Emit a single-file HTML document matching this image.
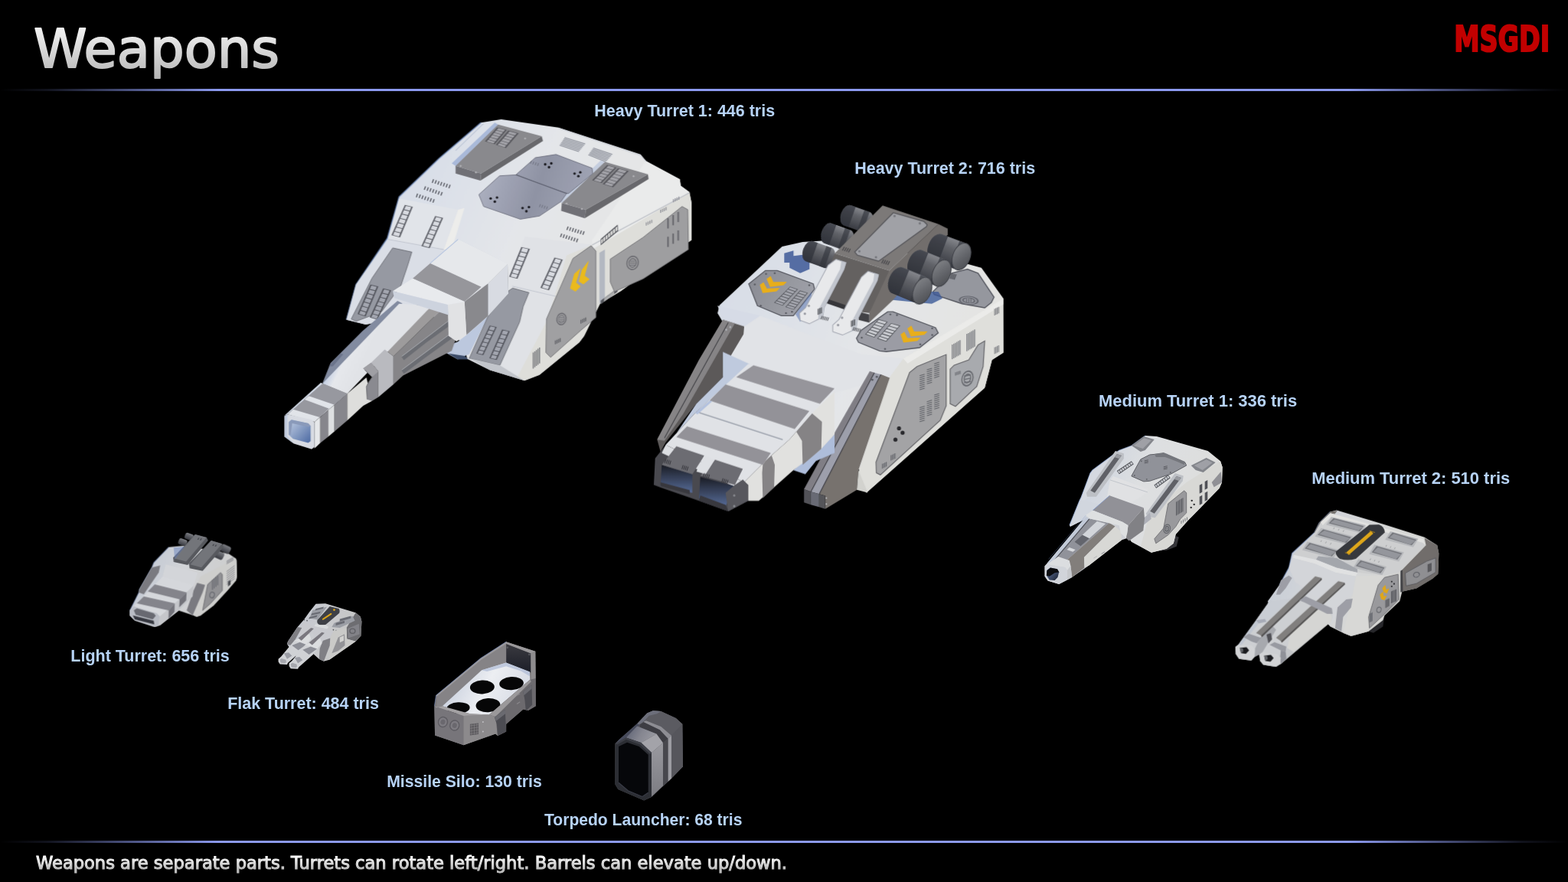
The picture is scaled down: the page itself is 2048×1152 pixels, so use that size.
<!DOCTYPE html>
<html lang="en">
<head>
<meta charset="utf-8">
<title>Weapons</title>
<style>
html,body{margin:0;padding:0;background:#000;width:2048px;height:1152px;overflow:hidden}
svg{display:block;position:absolute;left:0;top:0}
text{font-family:"Liberation Sans",sans-serif}
.lbl{font-weight:bold;font-size:22.5px;fill:#b7d3f6}
.dv{font-family:"DejaVu Sans","Liberation Sans",sans-serif}
</style>
</head>
<body>
<svg width="2048" height="1152" viewBox="0 0 2048 1152">
<defs>
<linearGradient id="lineg" x1="0" x2="1" y1="0" y2="0">
<stop offset="0" stop-color="#8b99ee" stop-opacity="0"/>
<stop offset="0.03" stop-color="#8b99ee" stop-opacity="0.12"/>
<stop offset="0.14" stop-color="#8b99ee" stop-opacity="1"/>
<stop offset="0.86" stop-color="#8b99ee" stop-opacity="1"/>
<stop offset="0.97" stop-color="#8b99ee" stop-opacity="0.12"/>
<stop offset="1" stop-color="#8b99ee" stop-opacity="0"/>
</linearGradient>
<linearGradient id="titleg" x1="0" x2="0" y1="0" y2="1">
<stop offset="0" stop-color="#ffffff"/>
<stop offset="1" stop-color="#b4b4b4"/>
</linearGradient>
<linearGradient id="footg" x1="0" x2="0" y1="0" y2="1">
<stop offset="0.15" stop-color="#ffffff"/>
<stop offset="0.85" stop-color="#bcbcbc"/>
</linearGradient>
</defs>
<rect x="0" y="0" width="2048" height="1152" fill="#000000"/>
<rect x="0" y="116" width="2048" height="3" fill="url(#lineg)"/>
<rect x="0" y="1098" width="2048" height="3" fill="url(#lineg)"/>

<!-- 10_heavy1 -->
<g id="heavy1" opacity="0.97" transform="translate(340,130) scale(0.416667)">
<defs>
<linearGradient id="h1roof" gradientUnits="userSpaceOnUse" x1="400" y1="200" x2="1300" y2="600">
<stop offset="0" stop-color="#dde4f0"/><stop offset="0.45" stop-color="#eceef2"/><stop offset="1" stop-color="#efefec"/>
</linearGradient>
<linearGradient id="h1hatch" gradientUnits="userSpaceOnUse" x1="700" y1="200" x2="1050" y2="320">
<stop offset="0" stop-color="#b4b8c8"/><stop offset="0.5" stop-color="#9498aa"/><stop offset="1" stop-color="#a9adbd"/>
</linearGradient>
<linearGradient id="h1pad" gradientUnits="userSpaceOnUse" x1="0" y1="0" x2="300" y2="300" >
<stop offset="0" stop-color="#97979b"/><stop offset="1" stop-color="#858589"/>
</linearGradient>
</defs>
<polygon points="692,72 755,62 935,88 1192,172 1208,192 1315,250 1318,270 1345,290 1352,325 1352,440 1130,600 1065,640 1015,741 1000,761 875,863 828,881 720,848 648,812 640,770 500,640 360,700 330,705 270,690 300,580 398,435 435,305 560,185" fill="url(#h1roof)"/>
<polyline points="692,72 560,185 435,305 398,435 300,580 270,690" fill="none" stroke="#7f9fd8" stroke-width="5" opacity="0.55"/>
<polygon points="1040,455 1200,360 1345,290 1352,325 1352,440 1130,600 1065,640 1015,741 1000,761 875,863 828,881 805,870 900,690 960,488" fill="#e6e6e2"/>
<polygon points="1208,192 1315,250 1318,270 1345,290 1040,470 1040,440" fill="#f2f3f3"/>
<polyline points="1040,456 1345,292" fill="none" stroke="#c9ccd2" stroke-width="3"/>
<polyline points="700,75 612,160" fill="none" stroke="#c5cee0" stroke-width="3"/>
<polyline points="935,90 1192,175 1210,195" fill="none" stroke="#d6dae2" stroke-width="3"/>
<polygon points="882,115 886,130 690,254 692,232" fill="#6c6c70"/>
<polygon points="612,208 692,232 690,254 612,232" fill="#74747a"/>
<polygon points="745,78 882,115 692,232 612,208" fill="#8e8e92"/>
<polygon points="1215,234 1217,249 1017,372 1020,345" fill="#6c6c70"/>
<polygon points="945,324 1020,345 1017,372 943,349" fill="#74747a"/>
<polygon points="1080,195 1215,234 1020,345 945,324" fill="#8e8e92"/>
<polygon points="745,78 612,208 600,200 735,72" fill="#6f8fcf" opacity="0.45"/>
<polygon points="1080,195 945,324 935,318 1068,190" fill="#8fa6d6" opacity="0.35"/>
<polygon points="742,87 773,95 735,140 704,131" fill="#5e5e64"/>
<polygon points="746.1,89.3 767.2,94.8 761.9,101 740.8,95.4" fill="#a8a8ae"/>
<polygon points="739.7,96.7 760.8,102.2 755.6,108.5 734.5,102.8" fill="#a8a8ae"/>
<polygon points="733.4,104 754.5,109.7 749.2,115.9 728.1,110.2" fill="#a8a8ae"/>
<polygon points="727.1,111.4 748.2,117.2 742.9,123.4 721.8,117.5" fill="#a8a8ae"/>
<polygon points="720.7,118.8 741.8,124.7 736.6,130.9 715.5,124.9" fill="#a8a8ae"/>
<polygon points="714.4,126.1 735.5,132.1 730.9,137.5 709.8,131.4" fill="#a8a8ae"/>
<polygon points="777,97 810,106 770,152 738,142" fill="#5e5e64"/>
<polygon points="781.4,99.5 803.8,105.6 798.3,112 775.9,105.8" fill="#a8a8ae"/>
<polygon points="774.8,107 797.2,113.3 791.6,119.6 769.4,113.3" fill="#a8a8ae"/>
<polygon points="768.3,114.5 790.5,120.9 785,127.3 762.9,120.8" fill="#a8a8ae"/>
<polygon points="761.8,122.1 783.9,128.5 778.3,134.9 756.4,128.3" fill="#a8a8ae"/>
<polygon points="755.3,129.6 777.2,136.2 771.7,142.5 749.8,135.9" fill="#a8a8ae"/>
<polygon points="748.7,137.1 770.6,143.8 765.8,149.3 744,142.5" fill="#a8a8ae"/>
<polygon points="1087,205 1117,213 1070,262 1040,253" fill="#5e5e64"/>
<polygon points="1090.7,207.4 1111.1,212.9 1104.6,219.6 1084.2,214.1" fill="#a8a8ae"/>
<polygon points="1082.9,215.4 1103.3,221 1096.8,227.8 1076.4,222.1" fill="#a8a8ae"/>
<polygon points="1075,223.5 1095.4,229.1 1088.9,235.9 1068.5,230.1" fill="#a8a8ae"/>
<polygon points="1067.2,231.5 1087.6,237.3 1081.1,244.1 1060.7,238.2" fill="#a8a8ae"/>
<polygon points="1059.4,239.5 1079.8,245.4 1073.3,252.2 1052.9,246.2" fill="#a8a8ae"/>
<polygon points="1051.5,247.5 1071.9,253.6 1066.3,259.4 1045.9,253.3" fill="#a8a8ae"/>
<polygon points="1121,215 1155,224 1106,275 1073,265" fill="#5e5e64"/>
<polygon points="1125.3,217.6 1148.4,223.7 1141.6,230.8 1118.6,224.6" fill="#a8a8ae"/>
<polygon points="1117.3,226 1140.3,232.2 1133.5,239.3 1110.6,232.9" fill="#a8a8ae"/>
<polygon points="1109.3,234.3 1132.1,240.7 1125.4,247.7 1102.6,241.3" fill="#a8a8ae"/>
<polygon points="1101.2,242.7 1124,249.2 1117.2,256.2 1094.6,249.6" fill="#a8a8ae"/>
<polygon points="1093.2,251.1 1115.9,257.6 1109.1,264.7 1086.5,258" fill="#a8a8ae"/>
<polygon points="1085.2,259.4 1107.7,266.1 1101.9,272.2 1079.4,265.4" fill="#a8a8ae"/>
<circle cx="628" cy="208" r="3" fill="#b8b8bc"/>
<circle cx="676" cy="228" r="3" fill="#b8b8bc"/>
<circle cx="830" cy="122" r="3" fill="#b8b8bc"/>
<circle cx="960" cy="326" r="3" fill="#b8b8bc"/>
<circle cx="1008" cy="343" r="3" fill="#b8b8bc"/>
<circle cx="1170" cy="240" r="3" fill="#b8b8bc"/>
<polygon points="955,117 1020,137 997,165 937,145" fill="#dcdfe6"/>
<line x1="953.7" y1="119" x2="1018.4" y2="139" stroke="#7c7f88" stroke-width="2"/>
<line x1="951.1" y1="123" x2="1015.1" y2="143" stroke="#7c7f88" stroke-width="2"/>
<line x1="948.6" y1="127" x2="1011.8" y2="147" stroke="#7c7f88" stroke-width="2"/>
<line x1="946" y1="131" x2="1008.5" y2="151" stroke="#7c7f88" stroke-width="2"/>
<line x1="943.4" y1="135" x2="1005.2" y2="155" stroke="#7c7f88" stroke-width="2"/>
<line x1="940.9" y1="139" x2="1001.9" y2="159" stroke="#7c7f88" stroke-width="2"/>
<line x1="938.3" y1="143" x2="998.6" y2="163" stroke="#7c7f88" stroke-width="2"/>
<polygon points="1045,150 1105,170 1082,197 1027,175" fill="#dcdfe6"/>
<line x1="1043.7" y1="151.8" x2="1103.4" y2="171.9" stroke="#7c7f88" stroke-width="2"/>
<line x1="1041.1" y1="155.4" x2="1100.1" y2="175.8" stroke="#7c7f88" stroke-width="2"/>
<line x1="1038.6" y1="158.9" x2="1096.8" y2="179.6" stroke="#7c7f88" stroke-width="2"/>
<line x1="1036" y1="162.5" x2="1093.5" y2="183.5" stroke="#7c7f88" stroke-width="2"/>
<line x1="1033.4" y1="166.1" x2="1090.2" y2="187.4" stroke="#7c7f88" stroke-width="2"/>
<line x1="1030.9" y1="169.6" x2="1086.9" y2="191.2" stroke="#7c7f88" stroke-width="2"/>
<line x1="1028.3" y1="173.2" x2="1083.6" y2="195.1" stroke="#7c7f88" stroke-width="2"/>
<polygon points="802,235 862,182 927,172 1040,215 1042,232 965,295 900,275" fill="url(#h1hatch)" stroke="#6d7080" stroke-width="2"/>
<polygon points="685,298 750,239 800,236 960,295 942,320 875,365 815,375 700,335" fill="url(#h1hatch)" stroke="#6d7080" stroke-width="2"/>
<polygon points="800,236 960,295 965,295 802,235" fill="#5d6070"/>
<circle cx="893" cy="203" r="4" fill="#1c1c22"/>
<circle cx="905" cy="212" r="4" fill="#1c1c22"/>
<circle cx="912" cy="200" r="4" fill="#1c1c22"/>
<circle cx="985" cy="232" r="4" fill="#1c1c22"/>
<circle cx="997" cy="240" r="4" fill="#1c1c22"/>
<circle cx="1003" cy="228" r="4" fill="#1c1c22"/>
<circle cx="722" cy="310" r="4" fill="#1c1c22"/>
<circle cx="735" cy="320" r="4" fill="#1c1c22"/>
<circle cx="742" cy="307" r="4" fill="#1c1c22"/>
<circle cx="822" cy="340" r="4" fill="#1c1c22"/>
<circle cx="834" cy="350" r="4" fill="#1c1c22"/>
<circle cx="842" cy="337" r="4" fill="#1c1c22"/>
<line x1="543" y1="250" x2="539" y2="261" stroke="#4a4c55" stroke-width="3"/>
<line x1="551.7" y1="252.8" x2="547.7" y2="263.8" stroke="#4a4c55" stroke-width="3"/>
<line x1="560.3" y1="255.7" x2="556.3" y2="266.7" stroke="#4a4c55" stroke-width="3"/>
<line x1="569" y1="258.5" x2="565" y2="269.5" stroke="#4a4c55" stroke-width="3"/>
<line x1="577.7" y1="261.3" x2="573.7" y2="272.3" stroke="#4a4c55" stroke-width="3"/>
<line x1="586.3" y1="264.2" x2="582.3" y2="275.2" stroke="#4a4c55" stroke-width="3"/>
<line x1="595" y1="267" x2="591" y2="278" stroke="#4a4c55" stroke-width="3"/>
<line x1="518" y1="272" x2="514" y2="283" stroke="#4a4c55" stroke-width="3"/>
<line x1="526.7" y1="275" x2="522.7" y2="286" stroke="#4a4c55" stroke-width="3"/>
<line x1="535.3" y1="278" x2="531.3" y2="289" stroke="#4a4c55" stroke-width="3"/>
<line x1="544" y1="281" x2="540" y2="292" stroke="#4a4c55" stroke-width="3"/>
<line x1="552.7" y1="284" x2="548.7" y2="295" stroke="#4a4c55" stroke-width="3"/>
<line x1="561.3" y1="287" x2="557.3" y2="298" stroke="#4a4c55" stroke-width="3"/>
<line x1="570" y1="290" x2="566" y2="301" stroke="#4a4c55" stroke-width="3"/>
<line x1="493" y1="295" x2="489" y2="306" stroke="#4a4c55" stroke-width="3"/>
<line x1="501.7" y1="297.8" x2="497.7" y2="308.8" stroke="#4a4c55" stroke-width="3"/>
<line x1="510.3" y1="300.7" x2="506.3" y2="311.7" stroke="#4a4c55" stroke-width="3"/>
<line x1="519" y1="303.5" x2="515" y2="314.5" stroke="#4a4c55" stroke-width="3"/>
<line x1="527.7" y1="306.3" x2="523.7" y2="317.3" stroke="#4a4c55" stroke-width="3"/>
<line x1="536.3" y1="309.2" x2="532.3" y2="320.2" stroke="#4a4c55" stroke-width="3"/>
<line x1="545" y1="312" x2="541" y2="323" stroke="#4a4c55" stroke-width="3"/>
<line x1="965" y1="398" x2="961" y2="409" stroke="#4a4c55" stroke-width="3"/>
<line x1="973.3" y1="400.5" x2="969.3" y2="411.5" stroke="#4a4c55" stroke-width="3"/>
<line x1="981.7" y1="403" x2="977.7" y2="414" stroke="#4a4c55" stroke-width="3"/>
<line x1="990" y1="405.5" x2="986" y2="416.5" stroke="#4a4c55" stroke-width="3"/>
<line x1="998.3" y1="408" x2="994.3" y2="419" stroke="#4a4c55" stroke-width="3"/>
<line x1="1006.7" y1="410.5" x2="1002.7" y2="421.5" stroke="#4a4c55" stroke-width="3"/>
<line x1="1015" y1="413" x2="1011" y2="424" stroke="#4a4c55" stroke-width="3"/>
<line x1="945" y1="420" x2="941" y2="431" stroke="#4a4c55" stroke-width="3"/>
<line x1="953.3" y1="422.7" x2="949.3" y2="433.7" stroke="#4a4c55" stroke-width="3"/>
<line x1="961.7" y1="425.3" x2="957.7" y2="436.3" stroke="#4a4c55" stroke-width="3"/>
<line x1="970" y1="428" x2="966" y2="439" stroke="#4a4c55" stroke-width="3"/>
<line x1="978.3" y1="430.7" x2="974.3" y2="441.7" stroke="#4a4c55" stroke-width="3"/>
<line x1="986.7" y1="433.3" x2="982.7" y2="444.3" stroke="#4a4c55" stroke-width="3"/>
<line x1="995" y1="436" x2="991" y2="447" stroke="#4a4c55" stroke-width="3"/>
<line x1="922" y1="443" x2="918" y2="454" stroke="#4a4c55" stroke-width="3"/>
<line x1="930.3" y1="445.7" x2="926.3" y2="456.7" stroke="#4a4c55" stroke-width="3"/>
<line x1="938.7" y1="448.3" x2="934.7" y2="459.3" stroke="#4a4c55" stroke-width="3"/>
<line x1="947" y1="451" x2="943" y2="462" stroke="#4a4c55" stroke-width="3"/>
<line x1="955.3" y1="453.7" x2="951.3" y2="464.7" stroke="#4a4c55" stroke-width="3"/>
<line x1="963.7" y1="456.3" x2="959.7" y2="467.3" stroke="#4a4c55" stroke-width="3"/>
<line x1="972" y1="459" x2="968" y2="470" stroke="#4a4c55" stroke-width="3"/>
<line x1="850" y1="192" x2="847" y2="201" stroke="#6a6c78" stroke-width="2"/>
<line x1="857.3" y1="194.3" x2="854.3" y2="203.3" stroke="#6a6c78" stroke-width="2"/>
<line x1="864.7" y1="196.7" x2="861.7" y2="205.7" stroke="#6a6c78" stroke-width="2"/>
<line x1="872" y1="199" x2="869" y2="208" stroke="#6a6c78" stroke-width="2"/>
<line x1="878" y1="328" x2="875" y2="337" stroke="#6a6c78" stroke-width="2"/>
<line x1="885.3" y1="330.3" x2="882.3" y2="339.3" stroke="#6a6c78" stroke-width="2"/>
<line x1="892.7" y1="332.7" x2="889.7" y2="341.7" stroke="#6a6c78" stroke-width="2"/>
<line x1="900" y1="335" x2="897" y2="344" stroke="#6a6c78" stroke-width="2"/>
<g transform="translate(384,576) scale(0.3667)">
<polygon points="480,560 640,500 715,440 900,280 950,95 1010,60 760,600 700,620 640,650" fill="#c3cfe6"/>
<polygon points="560,600 700,620 735,650 640,650" fill="#40506e"/>
</g>
<polygon points="435,310 620,345 575,470 400,438" fill="#e9ecf1"/>
<polygon points="400,438 575,470 500,640 360,700 330,705 270,690 300,580" fill="#e2e6ee"/>
<polygon points="620,345 640,340 600,470 575,470" fill="#f5f5f3"/>
<polygon points="830,430 1040,455 960,488 900,690 805,870 720,848 648,812 714,679 760,600" fill="#e8eaee"/>
<polyline points="400,438 575,470" fill="none" stroke="#c4c9d4" stroke-width="2"/>
<polyline points="790,585 940,620" fill="none" stroke="#c4c9d4" stroke-width="2"/>
<polygon points="453,330 478,336 438,432 411,425" fill="#62646c"/>
<polygon points="456.2,332.9 473.2,337 468.4,348.3 451.2,344.2" fill="#dfe2e8"/>
<polygon points="450.2,346.5 467.4,350.6 462.6,362 445.3,357.8" fill="#dfe2e8"/>
<polygon points="444.3,360.1 461.7,364.3 456.9,375.7 439.3,371.4" fill="#dfe2e8"/>
<polygon points="438.3,373.6 455.9,378 451.1,389.4 433.3,385" fill="#dfe2e8"/>
<polygon points="432.3,387.2 450.2,391.7 445.4,403.1 427.4,398.6" fill="#dfe2e8"/>
<polygon points="426.4,400.8 444.4,405.4 439.6,416.8 421.4,412.1" fill="#dfe2e8"/>
<polygon points="420.4,414.4 438.6,419.1 434.5,429 416.2,424.2" fill="#dfe2e8"/>
<polygon points="548,365 573,371 531,466 505,459" fill="#62646c"/>
<polygon points="551.1,367.8 568.2,371.9 563.1,383.2 546.1,379" fill="#dfe2e8"/>
<polygon points="545,381.3 562.1,385.5 557.1,396.8 539.9,392.5" fill="#dfe2e8"/>
<polygon points="538.9,394.7 556.1,399 551.1,410.3 533.8,405.9" fill="#dfe2e8"/>
<polygon points="532.8,408.2 550.1,412.6 545.1,423.9 527.7,419.4" fill="#dfe2e8"/>
<polygon points="526.7,421.6 544.1,426.1 539.1,437.4 521.6,432.8" fill="#dfe2e8"/>
<polygon points="520.5,435.1 538,439.7 533,451 515.5,446.3" fill="#dfe2e8"/>
<polygon points="514.4,448.6 532,453.2 527.7,463 510,458.2" fill="#dfe2e8"/>
<polygon points="818,462 845,468 806,562 780,555" fill="#62646c"/>
<polygon points="821.6,464.8 839.9,468.9 835.3,480.1 817,475.9" fill="#dfe2e8"/>
<polygon points="816.1,478.1 834.4,482.3 829.7,493.5 811.6,489.2" fill="#dfe2e8"/>
<polygon points="810.7,491.4 828.8,495.7 824.2,506.9 806.1,502.5" fill="#dfe2e8"/>
<polygon points="805.2,504.7 823.3,509.1 818.6,520.3 800.7,515.8" fill="#dfe2e8"/>
<polygon points="799.8,518.1 817.7,522.5 813.1,533.7 795.2,529.1" fill="#dfe2e8"/>
<polygon points="794.3,531.4 812.2,535.9 807.5,547.1 789.8,542.4" fill="#dfe2e8"/>
<polygon points="788.8,544.7 806.6,549.4 802.6,559 784.9,554.3" fill="#dfe2e8"/>
<polygon points="922,495 948,502 905,598 878,590" fill="#62646c"/>
<polygon points="925.3,498 943,502.8 937.8,514.2 920.1,509.3" fill="#dfe2e8"/>
<polygon points="919,511.6 936.8,516.5 931.7,527.9 913.8,522.9" fill="#dfe2e8"/>
<polygon points="912.8,525.2 930.6,530.2 925.5,541.6 907.5,536.5" fill="#dfe2e8"/>
<polygon points="906.5,538.8 924.5,543.9 919.3,555.3 901.3,550.1" fill="#dfe2e8"/>
<polygon points="900.2,552.4 918.3,557.6 913.2,569 895,563.7" fill="#dfe2e8"/>
<polygon points="894,566 912.1,571.3 907,582.6 888.8,577.3" fill="#dfe2e8"/>
<polygon points="887.7,579.6 906,584.9 901.5,594.8 883.2,589.4" fill="#dfe2e8"/>
<polygon points="415,465 475,478 462,520 440,585 380,665 300,695 285,688 350,560" fill="#9b9ea8" stroke="#6a6c74" stroke-width="2"/>
<polygon points="345,580 370,586 330,680 305,672" fill="#55575f"/>
<polygon points="348.2,582.8 365.2,586.9 360.4,598 343.4,593.8" fill="#a9acb6"/>
<polygon points="342.5,596 359.5,600.3 354.7,611.4 337.7,607" fill="#a9acb6"/>
<polygon points="336.8,609.2 353.8,613.7 349,624.8 332,620.2" fill="#a9acb6"/>
<polygon points="331.1,622.4 348.1,627.1 343.3,638.2 326.3,633.3" fill="#a9acb6"/>
<polygon points="325.3,635.6 342.3,640.4 337.6,651.6 320.6,646.5" fill="#a9acb6"/>
<polygon points="319.6,648.7 336.6,653.8 331.9,665 314.9,659.7" fill="#a9acb6"/>
<polygon points="313.9,661.9 330.9,667.2 326.8,676.8 309.8,671.4" fill="#a9acb6"/>
<polygon points="385,592 410,598 368,690 343,683" fill="#55575f"/>
<polygon points="388.2,594.8 405.2,598.9 400.2,609.8 383.2,605.6" fill="#a9acb6"/>
<polygon points="382.2,607.8 399.2,612 394.2,622.9 377.2,618.6" fill="#a9acb6"/>
<polygon points="376.2,620.8 393.2,625.1 388.2,636 371.2,631.7" fill="#a9acb6"/>
<polygon points="370.2,633.9 387.2,638.2 382.2,649.2 365.2,644.7" fill="#a9acb6"/>
<polygon points="364.2,646.9 381.2,651.4 376.2,662.3 359.2,657.7" fill="#a9acb6"/>
<polygon points="358.2,659.9 375.2,664.5 370.2,675.4 353.2,670.7" fill="#a9acb6"/>
<polygon points="352.2,672.9 369.2,677.6 364.8,687 347.8,682.3" fill="#a9acb6"/>
<polygon points="791,591 842,605 824,649 813,697 751,833 655,811 714,679 754,616" fill="#9b9ea8" stroke="#6a6c74" stroke-width="2"/>
<polygon points="719,708 741,713 699,801 677,796" fill="#55575f"/>
<polygon points="721.7,710.6 736.6,714 731.6,724.4 716.7,721" fill="#a9acb6"/>
<polygon points="715.7,723.1 730.6,726.5 725.6,737 710.7,733.6" fill="#a9acb6"/>
<polygon points="709.7,735.7 724.6,739.1 719.6,749.6 704.7,746.2" fill="#a9acb6"/>
<polygon points="703.7,748.3 718.6,751.7 713.6,762.1 698.7,758.7" fill="#a9acb6"/>
<polygon points="697.7,760.8 712.6,764.2 707.6,774.7 692.7,771.3" fill="#a9acb6"/>
<polygon points="691.7,773.4 706.6,776.8 701.6,787.3 686.7,783.9" fill="#a9acb6"/>
<polygon points="685.7,786 700.6,789.4 696.3,798.4 681.4,795" fill="#a9acb6"/>
<polygon points="758,721 782,726 741,816 718,811" fill="#55575f"/>
<polygon points="761,723.6 777.3,727 772.5,737.7 756.3,734.3" fill="#a9acb6"/>
<polygon points="755.3,736.5 771.5,739.9 766.7,750.6 750.5,747.2" fill="#a9acb6"/>
<polygon points="749.6,749.3 765.7,752.7 760.8,763.4 744.8,760" fill="#a9acb6"/>
<polygon points="743.8,762.2 759.8,765.6 755,776.3 739.1,772.9" fill="#a9acb6"/>
<polygon points="738.1,775 754,778.4 749.2,789.1 733.3,785.7" fill="#a9acb6"/>
<polygon points="732.4,787.9 748.2,791.3 743.3,802 727.6,798.6" fill="#a9acb6"/>
<polygon points="726.6,800.7 742.3,804.1 738.1,813.4 722.5,810" fill="#a9acb6"/>
<polygon points="655,811 751,833 828,881 720,848" fill="#c9ccd2"/>
<polygon points="980,498 1037,458 1052,475 1052,683 1005,723 910,808 895,793 897,688" fill="#a6a6a8" stroke="#707074" stroke-width="2"/>
<polygon points="1030,504 1017,552 1032,563 1013,579 998,570 1008,533" fill="#f2c01e"/>
<polygon points="1004,528 990,574 1004,586 988,602 971,592 984,546" fill="#f2c01e"/>
<ellipse cx="944" cy="688" rx="16" ry="20" fill="#707076" transform="rotate(12 944 688)"/>
<ellipse cx="944" cy="688" rx="12.8" ry="16" fill="#a6a6a8" transform="rotate(12 944 688)"/>
<ellipse cx="944" cy="688" rx="10.4" ry="13" fill="#707076" transform="rotate(12 944 688)"/>
<ellipse cx="944" cy="688" rx="8.4" ry="10.5" fill="#a6a6a8" transform="rotate(12 944 688)"/>
<line x1="937" y1="682.8" x2="952" y2="682.8" stroke="#707076" stroke-width="2"/>
<line x1="937" y1="688.5" x2="952" y2="688.5" stroke="#707076" stroke-width="2"/>
<line x1="937" y1="694.2" x2="952" y2="694.2" stroke="#707076" stroke-width="2"/>
<line x1="925" y1="755" x2="925" y2="767" stroke="#55565c" stroke-width="2.5"/>
<line x1="930" y1="752.7" x2="930" y2="764.7" stroke="#55565c" stroke-width="2.5"/>
<line x1="935" y1="750.3" x2="935" y2="762.3" stroke="#55565c" stroke-width="2.5"/>
<line x1="940" y1="748" x2="940" y2="760" stroke="#55565c" stroke-width="2.5"/>
<line x1="1005" y1="690" x2="1005" y2="702" stroke="#55565c" stroke-width="2.5"/>
<line x1="1010" y1="687.7" x2="1010" y2="699.7" stroke="#55565c" stroke-width="2.5"/>
<line x1="1015" y1="685.3" x2="1015" y2="697.3" stroke="#55565c" stroke-width="2.5"/>
<line x1="1020" y1="683" x2="1020" y2="695" stroke="#55565c" stroke-width="2.5"/>
<polygon points="1063,480 1080,470 1080,625 1063,640" fill="#b9bec8"/>
<polygon points="1120,392 1122,412 1067,457 1067,437" fill="#5a5c62"/>
<polygon points="1118.9,397.3 1120,409.3 1114.1,414.2 1113.1,402.2" fill="#e4e4e2"/>
<polygon points="1111.2,403.7 1112.2,415.7 1106.3,420.6 1105.4,408.6" fill="#e4e4e2"/>
<polygon points="1103.6,410.1 1104.4,422.1 1098.5,427 1097.8,415" fill="#e4e4e2"/>
<polygon points="1096,416.6 1096.6,428.6 1090.7,433.5 1090.2,421.5" fill="#e4e4e2"/>
<polygon points="1088.4,423 1088.8,435 1082.9,439.9 1082.6,427.9" fill="#e4e4e2"/>
<polygon points="1080.7,429.4 1081,441.4 1075.1,446.3 1074.9,434.3" fill="#e4e4e2"/>
<polygon points="1073.1,435.9 1073.2,447.9 1068.6,451.7 1068.5,439.7" fill="#e4e4e2"/>
<polygon points="1067,630 1120,590 1120,602 1067,642" fill="#5a5c62"/>
<polygon points="1077.6,622.3 1109.4,598.3 1109.4,599.6 1077.6,623.6" fill="#e4e4e2"/>
<polygon points="1077.6,624.1 1109.4,600.1 1109.4,601.4 1077.6,625.4" fill="#e4e4e2"/>
<polygon points="1077.6,625.8 1109.4,601.8 1109.4,603.1 1077.6,627.1" fill="#e4e4e2"/>
<polygon points="1077.6,627.5 1109.4,603.5 1109.4,604.8 1077.6,628.8" fill="#e4e4e2"/>
<polygon points="1077.6,629.2 1109.4,605.2 1109.4,606.5 1077.6,630.5" fill="#e4e4e2"/>
<polygon points="1077.6,630.9 1109.4,606.9 1109.4,608.2 1077.6,632.2" fill="#e4e4e2"/>
<polygon points="1077.6,632.6 1109.4,608.6 1109.4,609.7 1077.6,633.7" fill="#e4e4e2"/>
<polygon points="1097,500 1200,432 1322,335 1340,345 1342,470 1200,562 1110,602 1097,572" fill="#a4a4a6" stroke="#707074" stroke-width="2"/>
<ellipse cx="1167" cy="512" rx="19.6" ry="23" fill="#707076" transform="rotate(15 1167 512)"/>
<ellipse cx="1167" cy="512" rx="16.1" ry="19" fill="#a4a4a6" transform="rotate(15 1167 512)"/>
<ellipse cx="1167" cy="512" rx="12.8" ry="15" fill="#707076" transform="rotate(15 1167 512)"/>
<ellipse cx="1167" cy="512" rx="10.2" ry="12" fill="#a4a4a6" transform="rotate(15 1167 512)"/>
<line x1="1158" y1="506.2" x2="1176" y2="506.2" stroke="#707076" stroke-width="2.5"/>
<line x1="1158" y1="512.5" x2="1176" y2="512.5" stroke="#707076" stroke-width="2.5"/>
<line x1="1158" y1="518.8" x2="1176" y2="518.8" stroke="#707076" stroke-width="2.5"/>
<line x1="1278" y1="372" x2="1278" y2="404" stroke="#6c6c72" stroke-width="5"/>
<line x1="1294" y1="362" x2="1294" y2="394" stroke="#6c6c72" stroke-width="5"/>
<line x1="1310" y1="352" x2="1310" y2="384" stroke="#6c6c72" stroke-width="5"/>
<line x1="1278" y1="430" x2="1278" y2="462" stroke="#6c6c72" stroke-width="5"/>
<line x1="1294" y1="420" x2="1294" y2="452" stroke="#6c6c72" stroke-width="5"/>
<line x1="1310" y1="410" x2="1310" y2="442" stroke="#6c6c72" stroke-width="5"/>
<line x1="855.5" y1="793" x2="855.5" y2="843" stroke="#5a5c62" stroke-width="2.5"/>
<line x1="860.5" y1="789" x2="860.5" y2="839" stroke="#5a5c62" stroke-width="2.5"/>
<line x1="865.5" y1="785" x2="865.5" y2="835" stroke="#5a5c62" stroke-width="2.5"/>
<line x1="870.5" y1="781" x2="870.5" y2="831" stroke="#5a5c62" stroke-width="2.5"/>
<line x1="875.5" y1="777" x2="875.5" y2="827" stroke="#5a5c62" stroke-width="2.5"/>
<line x1="1295" y1="312" x2="1295" y2="322" stroke="#6a6c78" stroke-width="2"/>
<line x1="1300.7" y1="309.3" x2="1300.7" y2="319.3" stroke="#6a6c78" stroke-width="2"/>
<line x1="1306.3" y1="306.7" x2="1306.3" y2="316.7" stroke="#6a6c78" stroke-width="2"/>
<line x1="1312" y1="304" x2="1312" y2="314" stroke="#6a6c78" stroke-width="2"/>
<line x1="1255" y1="345" x2="1255" y2="355" stroke="#6a6c78" stroke-width="2"/>
<line x1="1260.7" y1="342.3" x2="1260.7" y2="352.3" stroke="#6a6c78" stroke-width="2"/>
<line x1="1266.3" y1="339.7" x2="1266.3" y2="349.7" stroke="#6a6c78" stroke-width="2"/>
<line x1="1272" y1="337" x2="1272" y2="347" stroke="#6a6c78" stroke-width="2"/>
<line x1="1210" y1="385" x2="1210" y2="395" stroke="#6a6c78" stroke-width="2"/>
<line x1="1215.7" y1="382.3" x2="1215.7" y2="392.3" stroke="#6a6c78" stroke-width="2"/>
<line x1="1221.3" y1="379.7" x2="1221.3" y2="389.7" stroke="#6a6c78" stroke-width="2"/>
<line x1="1227" y1="377" x2="1227" y2="387" stroke="#6a6c78" stroke-width="2"/>
<g transform="translate(0,576) scale(0.5)">
<defs><linearGradient id="h1muz" x1="0" y1="0" x2="1" y2="1"><stop offset="0" stop-color="#c9d6ec"/><stop offset="1" stop-color="#4f6ea8"/></linearGradient>
<linearGradient id="h1band" gradientUnits="userSpaceOnUse" x1="400" y1="600" x2="560" y2="680"><stop offset="0" stop-color="#c6d3ea"/><stop offset="0.35" stop-color="#eef0f4"/><stop offset="1" stop-color="#e9ebef"/></linearGradient></defs>
<polygon points="390,625 440,500 500,440 640,300 860,110 890,125 400,628" fill="#8790a6"/>
<polygon points="430,520 500,440 520,445 455,520" fill="#6f7890"/>
<polygon points="835,458 1130,170 1235,200 1230,335 1200,423 895,578 835,633" fill="#8b8a8d"/>
<polygon points="780,415 1075,140 1130,170 835,458" fill="#a3a1a2"/>
<polygon points="885,460 1200,220 1215,245 1040,372 900,482" fill="#6f7177"/>
<polyline points="887,458 1200,220" fill="none" stroke="#b5b8be" stroke-width="4"/>
<polygon points="885,545 1200,310 1215,335 1040,462 900,567" fill="#6f7177"/>
<polyline points="887,543 1200,310" fill="none" stroke="#b5b8be" stroke-width="4"/>
<polygon points="390,628 870,128 1075,140 545,692" fill="url(#h1band)"/>
<polygon points="170,822 390,628 545,692 340,868" fill="#e9ecf1"/>
<polygon points="205,790 275,728 430,785 372,840" fill="#9c9da5"/>
<polygon points="300,705 390,628 545,692 465,762" fill="#9c9da5"/>
<polygon points="150,830 170,822 390,628 380,622" fill="#dfe7f4"/>
<polygon points="340,868 375,840 375,1002 340,1035" fill="#eef0f2"/>
<polygon points="375,840 425,795 425,962 375,1002" fill="#8b8b91"/>
<polygon points="425,795 465,762 465,928 425,962" fill="#e6e8ea"/>
<polygon points="465,762 545,692 545,860 465,928" fill="#8b8b91"/>
<polygon points="545,692 665,590 700,738 645,768 545,860" fill="#e6e6e4"/>
<polygon points="695,498 780,415 835,458 835,633 740,713 740,553" fill="#bfc0c6"/>
<polygon points="645,533 695,498 740,553 740,713 700,738 670,728 665,648 680,618 700,588 655,543" fill="#8f8f95"/>
<polygon points="645,533 695,498 740,553 700,588" fill="#a5a5aa"/>
<polyline points="670,728 665,648 680,618 700,588 655,543" fill="none" stroke="#5d5e64" stroke-width="4"/>
<polygon points="152,832 170,822 320,855 340,872 340,1025 322,1040 210,1005 152,962" fill="#dfe3ea"/>
<polygon points="152,832 170,822 170,960 210,1005 152,962" fill="#c9d3e6"/>
<polygon points="178,870 195,855 300,878 315,895 315,990 300,1000 205,975 178,950" fill="url(#h1muz)"/>
<polygon points="178,870 195,855 300,878 315,895 300,900 200,878 190,950 178,950" fill="#8f9fc0"/>
</g>
<g transform="translate(360,288) scale(0.5)">
<polygon points="560,690 708,576 830,455 835,640 708,781 572,899" fill="#8e8e92"/>
<polygon points="455,710 560,690 572,899 510,940 460,905" fill="#e9eaec"/>
<polygon points="708,576 830,455 835,640 708,781" fill="#dfe3ea"/>
<polygon points="345,450 520,300 830,455 708,576 665,598" fill="#eef0f3"/>
<polygon points="235,545 345,450 665,598 560,690" fill="#9b9ba1"/>
<polygon points="110,625 235,545 560,690 455,710" fill="#f0f2f5"/>
<polygon points="110,625 455,710 460,775 120,668" fill="#d4dae6"/>
<polyline points="345,450 520,300" fill="none" stroke="#b9c9e6" stroke-width="5"/>
</g>
</g>
<!-- 20_heavy2 -->
<g id="heavy2" opacity="0.97" transform="translate(840,270) scale(0.1736111)">
<defs>
<linearGradient id="h2roof" gradientUnits="userSpaceOnUse" x1="600" y1="600" x2="2700" y2="1400">
<stop offset="0" stop-color="#dfe5ef"/><stop offset="0.5" stop-color="#eceef1"/><stop offset="1" stop-color="#ecece8"/>
</linearGradient>
<linearGradient id="h2cyl" x1="0" y1="0" x2="0" y2="1">
<stop offset="0" stop-color="#8a8c92"/><stop offset="0.35" stop-color="#65676d"/><stop offset="1" stop-color="#3c3e45"/>
</linearGradient>
<linearGradient id="h2cap" x1="0" y1="0" x2="1" y2="1">
<stop offset="0" stop-color="#8b8d92"/><stop offset="0.5" stop-color="#6a6c71"/><stop offset="1" stop-color="#4a4c52"/>
</linearGradient>
<linearGradient id="h2pan" gradientUnits="userSpaceOnUse" x1="800" y1="500" x2="1300" y2="800">
<stop offset="0" stop-color="#8e9098"/><stop offset="1" stop-color="#a9abb3"/>
</linearGradient>
</defs>
<polygon points="1045,300 1200,265 1440,250 2440,430 2545,460 2710,690 2711,1097 2625,1152 2570,1362 1680,2152 1620,2075 1625,1980 1440,1720 790,1190 560,800 575,740" fill="url(#h2roof)"/>
<polygon points="1957,1142 2710,690 2711,1097 2625,1152 2570,1362 1680,2152 1620,2075 1625,1980 1855,1282" fill="#e7e7e3"/>
<polygon points="1957,1142 2710,690 2710,735 1990,1180" fill="#f3f3f1"/>
<polygon points="880,820 1640,1110 1957,1142 1855,1282 1440,1400 790,1182 640,1152 760,900" fill="#e9ebef"/>
<polygon points="560,745 880,820 760,900 600,850" fill="#dde3ee"/>
<polygon points="795,580 920,480 1010,480 1280,580 1290,620 1130,820 1040,820 860,745" fill="url(#h2pan)" stroke="#5c5e66" stroke-width="8"/>
<circle cx="840" cy="585" r="7" fill="#5c5e66"/>
<circle cx="925" cy="505" r="7" fill="#5c5e66"/>
<circle cx="990" cy="500" r="7" fill="#5c5e66"/>
<circle cx="1250" cy="590" r="7" fill="#5c5e66"/>
<circle cx="1120" cy="790" r="7" fill="#5c5e66"/>
<circle cx="1075" cy="800" r="7" fill="#5c5e66"/>
<circle cx="885" cy="745" r="7" fill="#5c5e66"/>
<polygon points="929,543 959,522 980,566 1081,564 1057,590 955,603" fill="#f0b41c"/>
<polygon points="878,587 906,568 931,615 1029,611 1004,636 899,650" fill="#f0b41c"/>
<polygon points="1105,600 1165,620 1050,745 985,722" fill="#5a5c62"/>
<polygon points="1106.4,605.1 1156.9,622 1144.4,635.5 1093.4,618.4" fill="#a9abb3"/>
<polygon points="1089.3,622.6 1140.4,639.8 1127.9,653.3 1076.3,635.8" fill="#a9abb3"/>
<polygon points="1072.2,640 1123.9,657.6 1111.4,671.2 1059.2,653.3" fill="#a9abb3"/>
<polygon points="1055.1,657.5 1107.4,675.4 1094.9,689 1042.1,670.8" fill="#a9abb3"/>
<polygon points="1038,674.9 1091,693.3 1078.4,706.8 1025.1,688.2" fill="#a9abb3"/>
<polygon points="1021,692.4 1074.5,711.1 1061.9,724.6 1008,705.7" fill="#a9abb3"/>
<polygon points="1003.9,709.9 1058,728.9 1048.1,739.6 993.6,720.3" fill="#a9abb3"/>
<polygon points="1180,630 1240,648 1135,775 1070,755" fill="#5a5c62"/>
<polygon points="1181.7,635 1232.2,650.2 1220.7,664 1169.8,648.6" fill="#a9abb3"/>
<polygon points="1166,652.9 1217.1,668.3 1205.7,682.1 1154.1,666.5" fill="#a9abb3"/>
<polygon points="1150.4,670.8 1202.1,686.4 1190.6,700.2 1138.5,684.4" fill="#a9abb3"/>
<polygon points="1134.7,688.7 1187,704.5 1175.6,718.3 1122.8,702.2" fill="#a9abb3"/>
<polygon points="1119,706.5 1172,722.7 1160.5,736.4 1107.1,720.1" fill="#a9abb3"/>
<polygon points="1103.4,724.4 1156.9,740.8 1145.5,754.6 1091.5,738" fill="#a9abb3"/>
<polygon points="1087.7,742.3 1141.8,758.9 1132.8,769.8 1078.3,753" fill="#a9abb3"/>
<g transform="translate(1440,0)">
<polygon points="165,990 200,930 400,790 440,790 760,910 780,950 640,1060 390,1090 340,1085 180,1020" fill="#a0a2aa" stroke="#5c5e66" stroke-width="8"/>
<circle cx="205" cy="985" r="7" fill="#5c5e66"/>
<circle cx="420" cy="810" r="7" fill="#5c5e66"/>
<circle cx="470" cy="815" r="7" fill="#5c5e66"/>
<circle cx="735" cy="915" r="7" fill="#5c5e66"/>
<circle cx="735" cy="965" r="7" fill="#5c5e66"/>
<circle cx="645" cy="1035" r="7" fill="#5c5e66"/>
<circle cx="380" cy="1070" r="7" fill="#5c5e66"/>
<polygon points="548,916 578,895 599,939 700,937 676,963 574,976" fill="#f0b41c"/>
<polygon points="497,960 525,941 550,988 648,984 623,1009 518,1023" fill="#f0b41c"/>
<polygon points="330,845 400,865 300,985 230,960" fill="#5a5c62"/>
<polygon points="332.3,850.4 391.1,867.4 378.4,882.5 319.6,865.1" fill="#cfd1d6"/>
<polygon points="315.6,869.7 374.4,887.3 361.7,902.5 302.9,884.3" fill="#cfd1d6"/>
<polygon points="298.9,888.9 357.7,907.3 345.1,922.4 286.3,903.5" fill="#cfd1d6"/>
<polygon points="282.3,908.1 341.1,927.2 328.4,942.3 269.6,922.8" fill="#cfd1d6"/>
<polygon points="265.6,927.4 324.4,947.1 311.7,962.3 252.9,942" fill="#cfd1d6"/>
<polygon points="248.9,946.6 307.7,967.1 297.7,979 238.9,958.2" fill="#cfd1d6"/>
<polygon points="425,875 495,895 390,1015 320,992" fill="#5a5c62"/>
<polygon points="427.1,880.5 485.9,897.4 472.6,912.6 413.8,895.4" fill="#cfd1d6"/>
<polygon points="409.6,900 468.4,917.4 455.1,932.5 396.3,914.9" fill="#cfd1d6"/>
<polygon points="392.1,919.6 450.9,937.3 437.6,952.5 378.8,934.4" fill="#cfd1d6"/>
<polygon points="374.6,939.1 433.4,957.3 420.1,972.4 361.3,954" fill="#cfd1d6"/>
<polygon points="357.1,958.7 415.9,977.2 402.6,992.4 343.8,973.5" fill="#cfd1d6"/>
<polygon points="339.6,978.2 398.4,997.2 387.9,1009.2 329.1,989.9" fill="#cfd1d6"/>
<polygon points="740,640 880,500 1000,470 1080,500 1200,680 1180,720 1130,760 960,730 750,660" fill="#9a9ca4" stroke="#5c5e66" stroke-width="8"/>
<ellipse cx="1010" cy="705" rx="75" ry="33.8" fill="#6a6c74" transform="rotate(5 1010 705)"/>
<ellipse cx="1010" cy="705" rx="62" ry="27.9" fill="#9a9ca4" transform="rotate(5 1010 705)"/>
<ellipse cx="1010" cy="705" rx="50" ry="22.5" fill="#6a6c74" transform="rotate(5 1010 705)"/>
<ellipse cx="1010" cy="705" rx="38" ry="17.1" fill="#9a9ca4" transform="rotate(5 1010 705)"/>
<line x1="993.3" y1="690" x2="993.3" y2="720" stroke="#6a6c74" stroke-width="7"/>
<line x1="1010" y1="690" x2="1010" y2="720" stroke="#6a6c74" stroke-width="7"/>
<line x1="1026.7" y1="690" x2="1026.7" y2="720" stroke="#6a6c74" stroke-width="7"/>
<line x1="885" y1="501.2" x2="870" y2="541.2" stroke="#55575d" stroke-width="7"/>
<line x1="895" y1="503.8" x2="880" y2="543.8" stroke="#55575d" stroke-width="7"/>
<line x1="905" y1="506.2" x2="890" y2="546.2" stroke="#55575d" stroke-width="7"/>
<line x1="915" y1="508.8" x2="900" y2="548.8" stroke="#55575d" stroke-width="7"/>
</g>
<g transform="translate(1440,1152)">
<polygon points="565,95 620,50 840,-40 840,345 795,455 345,865 315,850 312,770" fill="#a9a9ab" stroke="#6c6c70" stroke-width="7"/>
<polygon points="870,70 900,40 1010,0 1080,-112 1130,-142 1118,50 1070,200 910,350 870,330" fill="#aeb0b4" stroke="#6c6c70" stroke-width="7"/>
<ellipse cx="1000" cy="140" rx="44.6" ry="62" fill="#707278" transform="rotate(18 1000 140)"/>
<ellipse cx="1000" cy="140" rx="36" ry="50" fill="#aeb0b4" transform="rotate(18 1000 140)"/>
<ellipse cx="1000" cy="140" rx="27.4" ry="38" fill="#707278" transform="rotate(18 1000 140)"/>
<ellipse cx="1000" cy="140" rx="19.4" ry="27" fill="#aeb0b4" transform="rotate(18 1000 140)"/>
<line x1="975" y1="122.5" x2="1025" y2="112.5" stroke="#707278" stroke-width="8"/>
<line x1="975" y1="147.5" x2="1025" y2="137.5" stroke="#707278" stroke-width="8"/>
<line x1="975" y1="172.5" x2="1025" y2="162.5" stroke="#707278" stroke-width="8"/>
<line x1="640" y1="120" x2="678" y2="108" stroke="#66686e" stroke-width="6"/>
<line x1="640" y1="135" x2="678" y2="123" stroke="#66686e" stroke-width="6"/>
<line x1="640" y1="150" x2="678" y2="138" stroke="#66686e" stroke-width="6"/>
<line x1="640" y1="165" x2="678" y2="153" stroke="#66686e" stroke-width="6"/>
<line x1="640" y1="180" x2="678" y2="168" stroke="#66686e" stroke-width="6"/>
<line x1="640" y1="195" x2="678" y2="183" stroke="#66686e" stroke-width="6"/>
<line x1="640" y1="210" x2="678" y2="198" stroke="#66686e" stroke-width="6"/>
<line x1="640" y1="225" x2="678" y2="213" stroke="#66686e" stroke-width="6"/>
<line x1="695" y1="75" x2="733" y2="63" stroke="#66686e" stroke-width="6"/>
<line x1="695" y1="90" x2="733" y2="78" stroke="#66686e" stroke-width="6"/>
<line x1="695" y1="105" x2="733" y2="93" stroke="#66686e" stroke-width="6"/>
<line x1="695" y1="120" x2="733" y2="108" stroke="#66686e" stroke-width="6"/>
<line x1="695" y1="135" x2="733" y2="123" stroke="#66686e" stroke-width="6"/>
<line x1="695" y1="150" x2="733" y2="138" stroke="#66686e" stroke-width="6"/>
<line x1="695" y1="165" x2="733" y2="153" stroke="#66686e" stroke-width="6"/>
<line x1="695" y1="180" x2="733" y2="168" stroke="#66686e" stroke-width="6"/>
<line x1="750" y1="30" x2="788" y2="18" stroke="#66686e" stroke-width="6"/>
<line x1="750" y1="45" x2="788" y2="33" stroke="#66686e" stroke-width="6"/>
<line x1="750" y1="60" x2="788" y2="48" stroke="#66686e" stroke-width="6"/>
<line x1="750" y1="75" x2="788" y2="63" stroke="#66686e" stroke-width="6"/>
<line x1="750" y1="90" x2="788" y2="78" stroke="#66686e" stroke-width="6"/>
<line x1="750" y1="105" x2="788" y2="93" stroke="#66686e" stroke-width="6"/>
<line x1="750" y1="120" x2="788" y2="108" stroke="#66686e" stroke-width="6"/>
<line x1="750" y1="135" x2="788" y2="123" stroke="#66686e" stroke-width="6"/>
<line x1="640" y1="360" x2="678" y2="348" stroke="#66686e" stroke-width="6"/>
<line x1="640" y1="375" x2="678" y2="363" stroke="#66686e" stroke-width="6"/>
<line x1="640" y1="390" x2="678" y2="378" stroke="#66686e" stroke-width="6"/>
<line x1="640" y1="405" x2="678" y2="393" stroke="#66686e" stroke-width="6"/>
<line x1="640" y1="420" x2="678" y2="408" stroke="#66686e" stroke-width="6"/>
<line x1="640" y1="435" x2="678" y2="423" stroke="#66686e" stroke-width="6"/>
<line x1="640" y1="450" x2="678" y2="438" stroke="#66686e" stroke-width="6"/>
<line x1="640" y1="465" x2="678" y2="453" stroke="#66686e" stroke-width="6"/>
<line x1="695" y1="315" x2="733" y2="303" stroke="#66686e" stroke-width="6"/>
<line x1="695" y1="330" x2="733" y2="318" stroke="#66686e" stroke-width="6"/>
<line x1="695" y1="345" x2="733" y2="333" stroke="#66686e" stroke-width="6"/>
<line x1="695" y1="360" x2="733" y2="348" stroke="#66686e" stroke-width="6"/>
<line x1="695" y1="375" x2="733" y2="363" stroke="#66686e" stroke-width="6"/>
<line x1="695" y1="390" x2="733" y2="378" stroke="#66686e" stroke-width="6"/>
<line x1="695" y1="405" x2="733" y2="393" stroke="#66686e" stroke-width="6"/>
<line x1="695" y1="420" x2="733" y2="408" stroke="#66686e" stroke-width="6"/>
<line x1="750" y1="265" x2="788" y2="253" stroke="#66686e" stroke-width="6"/>
<line x1="750" y1="280" x2="788" y2="268" stroke="#66686e" stroke-width="6"/>
<line x1="750" y1="295" x2="788" y2="283" stroke="#66686e" stroke-width="6"/>
<line x1="750" y1="310" x2="788" y2="298" stroke="#66686e" stroke-width="6"/>
<line x1="750" y1="325" x2="788" y2="313" stroke="#66686e" stroke-width="6"/>
<line x1="750" y1="340" x2="788" y2="328" stroke="#66686e" stroke-width="6"/>
<line x1="750" y1="355" x2="788" y2="343" stroke="#66686e" stroke-width="6"/>
<line x1="750" y1="370" x2="788" y2="358" stroke="#66686e" stroke-width="6"/>
<circle cx="485" cy="515" r="15" fill="#2a2a2e"/>
<circle cx="512" cy="548" r="15" fill="#2a2a2e"/>
<circle cx="458" cy="600" r="15" fill="#2a2a2e"/>
<line x1="425" y1="717.5" x2="425" y2="757.5" stroke="#66686e" stroke-width="6"/>
<line x1="435" y1="712.5" x2="435" y2="752.5" stroke="#66686e" stroke-width="6"/>
<line x1="445" y1="707.5" x2="445" y2="747.5" stroke="#66686e" stroke-width="6"/>
<line x1="455" y1="702.5" x2="455" y2="742.5" stroke="#66686e" stroke-width="6"/>
<line x1="360" y1="782.5" x2="360" y2="817.5" stroke="#66686e" stroke-width="6"/>
<line x1="370" y1="777.5" x2="370" y2="812.5" stroke="#66686e" stroke-width="6"/>
<line x1="380" y1="772.5" x2="380" y2="807.5" stroke="#66686e" stroke-width="6"/>
<line x1="390" y1="767.5" x2="390" y2="802.5" stroke="#66686e" stroke-width="6"/>
<line x1="910.6" y1="93.1" x2="910.6" y2="118.1" stroke="#66686e" stroke-width="6"/>
<line x1="921.9" y1="89.4" x2="921.9" y2="114.4" stroke="#66686e" stroke-width="6"/>
<line x1="933.1" y1="85.6" x2="933.1" y2="110.6" stroke="#66686e" stroke-width="6"/>
<line x1="944.4" y1="81.9" x2="944.4" y2="106.9" stroke="#66686e" stroke-width="6"/>
</g>
<g transform="translate(1440,0)">
<line x1="885.8" y1="1036.7" x2="885.8" y2="1146.7" stroke="#77797f" stroke-width="7"/>
<line x1="897.5" y1="1030" x2="897.5" y2="1140" stroke="#77797f" stroke-width="7"/>
<line x1="909.2" y1="1023.3" x2="909.2" y2="1133.3" stroke="#77797f" stroke-width="7"/>
<line x1="920.8" y1="1016.7" x2="920.8" y2="1126.7" stroke="#77797f" stroke-width="7"/>
<line x1="932.5" y1="1010" x2="932.5" y2="1120" stroke="#77797f" stroke-width="7"/>
<line x1="944.2" y1="1003.3" x2="944.2" y2="1113.3" stroke="#77797f" stroke-width="7"/>
<line x1="995.8" y1="956.7" x2="995.8" y2="1086.7" stroke="#77797f" stroke-width="7"/>
<line x1="1007.5" y1="950" x2="1007.5" y2="1080" stroke="#77797f" stroke-width="7"/>
<line x1="1019.2" y1="943.3" x2="1019.2" y2="1073.3" stroke="#77797f" stroke-width="7"/>
<line x1="1030.8" y1="936.7" x2="1030.8" y2="1066.7" stroke="#77797f" stroke-width="7"/>
<line x1="1042.5" y1="930" x2="1042.5" y2="1060" stroke="#77797f" stroke-width="7"/>
<line x1="1054.2" y1="923.3" x2="1054.2" y2="1053.3" stroke="#77797f" stroke-width="7"/>
<line x1="1205" y1="767.5" x2="1205" y2="817.5" stroke="#77797f" stroke-width="6"/>
<line x1="1215" y1="762.5" x2="1215" y2="812.5" stroke="#77797f" stroke-width="6"/>
<line x1="1225" y1="757.5" x2="1225" y2="807.5" stroke="#77797f" stroke-width="6"/>
<line x1="1235" y1="752.5" x2="1235" y2="802.5" stroke="#77797f" stroke-width="6"/>
<line x1="1205" y1="1057.5" x2="1205" y2="1107.5" stroke="#77797f" stroke-width="6"/>
<line x1="1215" y1="1052.5" x2="1215" y2="1102.5" stroke="#77797f" stroke-width="6"/>
<line x1="1225" y1="1047.5" x2="1225" y2="1097.5" stroke="#77797f" stroke-width="6"/>
<line x1="1235" y1="1042.5" x2="1235" y2="1092.5" stroke="#77797f" stroke-width="6"/>
</g>
<g transform="translate(921.6,0)">
<polygon points="140,350 210,330 210,370 290,360 330,300 330,470 260,500 180,460 180,420 140,420" fill="#3f5c9c" opacity="0.85"/>
<polygon points="225,810 345,640 350,760 260,865" fill="#5a76b4" opacity="0.55"/>
<polygon points="940,700 1250,730 1330,690 1300,640 1000,640" fill="#3f5c9c" opacity="0.8"/>
<g transform="translate(330,335) rotate(19.7)">
<path d="M0,-80 L148.7,-80 A49.6,80 0 0 1 148.7,80 L0,80 A49.6,80 0 0 1 0,-80 Z" fill="url(#h2cyl)"/>
<path d="M0,-80 L37.2,-80 L37.2,80 L0,80 A49.6,80 0 0 1 0,-80 Z" fill="#2f323a" opacity="0.7"/>
<rect x="107" y="-80" width="41.6" height="160" fill="#33363d" opacity="0.65"/>
</g>
<g transform="translate(470,200) rotate(19.7)">
<path d="M0,-80 L148.7,-80 A49.6,80 0 0 1 148.7,80 L0,80 A49.6,80 0 0 1 0,-80 Z" fill="url(#h2cyl)"/>
<path d="M0,-80 L37.2,-80 L37.2,80 L0,80 A49.6,80 0 0 1 0,-80 Z" fill="#2f323a" opacity="0.7"/>
<rect x="107" y="-80" width="41.6" height="160" fill="#33363d" opacity="0.65"/>
</g>
<g transform="translate(615,65) rotate(19.7)">
<path d="M0,-80 L148.7,-80 A49.6,80 0 0 1 148.7,80 L0,80 A49.6,80 0 0 1 0,-80 Z" fill="url(#h2cyl)"/>
<path d="M0,-80 L37.2,-80 L37.2,80 L0,80 A49.6,80 0 0 1 0,-80 Z" fill="#2f323a" opacity="0.7"/>
<rect x="107" y="-80" width="41.6" height="160" fill="#33363d" opacity="0.65"/>
</g>
<polygon points="930,480 1300,130 1370,165 1370,210 960,700 780,870 780,800 850,560" fill="#767270"/>
<polygon points="520,350 930,480 780,800 700,790 600,760 455,700 440,560" fill="#686564"/>
<polygon points="455,690 600,740 600,775 455,725" fill="#38383c"/>
<polygon points="700,790 780,810 780,872 700,852" fill="#454549"/>
<polygon points="880,-10 1300,130 930,480 520,350" fill="#807d7c"/>
<polygon points="670,340 960,45 1190,110 1215,135 1210,150 850,410 690,365" fill="#a6a7ac" stroke="#5c5c60" stroke-width="8"/>
<circle cx="705" cy="335" r="9" fill="#7b7c82"/>
<circle cx="970" cy="70" r="9" fill="#7b7c82"/>
<circle cx="1160" cy="125" r="9" fill="#7b7c82"/>
<circle cx="830" cy="380" r="9" fill="#7b7c82"/>
<line x1="592.5" y1="302.2" x2="577.5" y2="329.2" stroke="#48484c" stroke-width="7"/>
<line x1="607.5" y1="306.8" x2="592.5" y2="333.8" stroke="#48484c" stroke-width="7"/>
<line x1="622.5" y1="311.2" x2="607.5" y2="338.2" stroke="#48484c" stroke-width="7"/>
<line x1="637.5" y1="315.8" x2="622.5" y2="342.8" stroke="#48484c" stroke-width="7"/>
<line x1="887.5" y1="397.1" x2="872.5" y2="425.1" stroke="#48484c" stroke-width="7"/>
<line x1="902.5" y1="401.4" x2="887.5" y2="429.4" stroke="#48484c" stroke-width="7"/>
<line x1="917.5" y1="405.6" x2="902.5" y2="433.6" stroke="#48484c" stroke-width="7"/>
<line x1="932.5" y1="409.9" x2="917.5" y2="437.9" stroke="#48484c" stroke-width="7"/>
<polygon points="470,440 530,395 605,420 590,470 440,760 430,830 330,880 260,855 255,800 300,760" fill="#f0f1f3" stroke="#a9adb8" stroke-width="6" stroke-linejoin="round"/>
<polygon points="605,420 590,470 440,760 430,830 395,848 400,770 560,470 570,410" fill="#c9cdd5"/>
<circle cx="295" cy="805" r="9" fill="#9ea0a8"/>
<circle cx="325" cy="745" r="9" fill="#9ea0a8"/>
<line x1="394.4" y1="768.1" x2="394.4" y2="813.1" stroke="#55575d" stroke-width="6"/>
<line x1="403.1" y1="764.4" x2="403.1" y2="809.4" stroke="#55575d" stroke-width="6"/>
<line x1="411.9" y1="760.6" x2="411.9" y2="805.6" stroke="#55575d" stroke-width="6"/>
<line x1="420.6" y1="756.9" x2="420.6" y2="801.9" stroke="#55575d" stroke-width="6"/>
<polygon points="720,530 770,485 850,510 840,555 690,850 680,920 580,965 505,940 505,890 550,850" fill="#f0f1f3" stroke="#a9adb8" stroke-width="6" stroke-linejoin="round"/>
<polygon points="850,510 840,555 690,850 680,920 645,938 650,860 810,560 818,500" fill="#c9cdd5"/>
<circle cx="545" cy="890" r="9" fill="#9ea0a8"/>
<circle cx="575" cy="835" r="9" fill="#9ea0a8"/>
<line x1="644.4" y1="858.1" x2="644.4" y2="903.1" stroke="#55575d" stroke-width="6"/>
<line x1="653.1" y1="854.4" x2="653.1" y2="899.4" stroke="#55575d" stroke-width="6"/>
<line x1="661.9" y1="850.6" x2="661.9" y2="895.6" stroke="#55575d" stroke-width="6"/>
<line x1="670.6" y1="846.9" x2="670.6" y2="891.9" stroke="#55575d" stroke-width="6"/>
<line x1="426" y1="821.5" x2="416" y2="846.5" stroke="#55575d" stroke-width="6"/>
<line x1="438" y1="824.5" x2="428" y2="849.5" stroke="#55575d" stroke-width="6"/>
<line x1="450" y1="827.5" x2="440" y2="852.5" stroke="#55575d" stroke-width="6"/>
<line x1="462" y1="830.5" x2="452" y2="855.5" stroke="#55575d" stroke-width="6"/>
<line x1="474" y1="833.5" x2="464" y2="858.5" stroke="#55575d" stroke-width="6"/>
<line x1="666" y1="906.5" x2="656" y2="931.5" stroke="#55575d" stroke-width="6"/>
<line x1="678" y1="909.5" x2="668" y2="934.5" stroke="#55575d" stroke-width="6"/>
<line x1="690" y1="912.5" x2="680" y2="937.5" stroke="#55575d" stroke-width="6"/>
<line x1="702" y1="915.5" x2="692" y2="940.5" stroke="#55575d" stroke-width="6"/>
<line x1="714" y1="918.5" x2="704" y2="943.5" stroke="#55575d" stroke-width="6"/>
</g>
<g transform="translate(1440,0)">
<g transform="translate(770,305) rotate(20.7)">
<path d="M0,-105 L197.8,-105 A65.1,105 0 0 1 197.8,105 L0,105 A65.1,105 0 0 1 0,-105 Z" fill="url(#h2cyl)"/>
<path d="M0,-105 L49.5,-105 L49.5,105 L0,105 A65.1,105 0 0 1 0,-105 Z" fill="#2f323a" opacity="0.7"/>
<rect x="142.4" y="-105" width="55.4" height="210" fill="#33363d" opacity="0.65"/>
<ellipse cx="197.8" cy="0" rx="65.1" ry="105" fill="url(#h2cap)" stroke="#45474d" stroke-width="6"/>
</g>
<g transform="translate(620,425) rotate(22.1)">
<path d="M0,-105 L199.6,-105 A65.1,105 0 0 1 199.6,105 L0,105 A65.1,105 0 0 1 0,-105 Z" fill="url(#h2cyl)"/>
<path d="M0,-105 L49.9,-105 L49.9,105 L0,105 A65.1,105 0 0 1 0,-105 Z" fill="#2f323a" opacity="0.7"/>
<rect x="143.7" y="-105" width="55.9" height="210" fill="#33363d" opacity="0.65"/>
<ellipse cx="199.6" cy="0" rx="65.1" ry="105" fill="url(#h2cap)" stroke="#45474d" stroke-width="6"/>
</g>
<g transform="translate(475,555) rotate(22.6)">
<path d="M0,-105 L200.4,-105 A65.1,105 0 0 1 200.4,105 L0,105 A65.1,105 0 0 1 0,-105 Z" fill="url(#h2cyl)"/>
<path d="M0,-105 L50.1,-105 L50.1,105 L0,105 A65.1,105 0 0 1 0,-105 Z" fill="#2f323a" opacity="0.7"/>
<rect x="144.3" y="-105" width="56.1" height="210" fill="#33363d" opacity="0.65"/>
<ellipse cx="200.4" cy="0" rx="65.1" ry="105" fill="url(#h2cap)" stroke="#45474d" stroke-width="6"/>
</g>
</g>
<polygon points="600,850 760,900 755,960 640,1152 600,1282 400,1482 170,1772 130,1842 105,1752 420,1152" fill="#5f5c5c"/>
<polygon points="600,850 690,878 300,1560 160,1760 105,1752 420,1152" fill="#8b898b"/>
<polyline points="640,872 160,1740" fill="none" stroke="#4a4a4e" stroke-width="7"/>
<circle cx="625" cy="925" r="8" fill="#b4b6bc"/>
<circle cx="655" cy="905" r="8" fill="#b4b6bc"/>
<g transform="translate(1440,1152)">
<polygon points="350,110 415,135 180,830 168,978 -70,1122 -70,1023 -115,1010" fill="#7b7672"/>
<polygon points="265,85 300,97 -178,992 -230,974 0,548" fill="#85838a"/>
<polygon points="300,97 348,110 -115,1010 -178,992" fill="#a3a5b1"/>
<polyline points="300,97 -178,992" fill="none" stroke="#3e3e44" stroke-width="6"/>
<polyline points="349,110 -115,1010" fill="none" stroke="#3e3e44" stroke-width="6"/>
<polygon points="-230,974 -178,992 -178,1090 -230,1073" fill="#55555b"/>
<polygon points="-178,992 -115,1010 -115,1108 -178,1090" fill="#6c6e78"/>
<polygon points="-115,1010 -70,1023 -70,1122 -115,1108" fill="#58585c"/>
<circle cx="-62" cy="1040" r="6" fill="#c8c8cc"/>
<circle cx="-62" cy="1085" r="6" fill="#c8c8cc"/>
<circle cx="285" cy="150" r="8" fill="#5c5e66"/>
<circle cx="318" cy="128" r="8" fill="#5c5e66"/>
<polygon points="180,830 250,1000 168,978" fill="#d9d9d5"/>
</g>
<g transform="translate(0,1152)">
<defs><linearGradient id="h2in" x1="0" y1="0" x2="0" y2="1"><stop offset="0" stop-color="#1c1e26"/><stop offset="1" stop-color="#5a6f9c"/></linearGradient></defs>
<polygon points="1130,830 1440,560 1440,700 1300,760 1220,860" fill="#b4c4e2"/>
<polygon points="600,-60 800,30 390,400 170,640 150,700 400,330 600,130" fill="#c6d1e6"/>
<polygon points="1440,240 1290,380 1100,600 940,740 760,920 790,1060 870,1060 1130,830 1330,680 1440,560" fill="#e9e9e7"/>
<polygon points="1140,520 1250,385 1345,465 1340,670 1200,790 1195,610" fill="#8a888a"/>
<polygon points="900,790 960,700 990,790 985,960 900,1040 895,850" fill="#8a888a"/>
<polygon points="790,30 1440,230 1290,380 1100,600 940,740 760,920 170,640 390,400" fill="#e8eaee"/>
<polygon points="830,40 1440,215 1330,330 700,130" fill="#9b9aa0"/>
<polygon points="620,185 1250,385 1140,520 500,305" fill="#98979d"/>
<polygon points="330,500 960,700 900,790 250,580" fill="#98979d"/>
<polyline points="400,390 1050,600" fill="none" stroke="#9aa0ac" stroke-width="8"/>
<polygon points="390,400 500,305 520,312 410,410" fill="#b9c8e6"/>
<polygon points="90,740 170,640 760,920 790,940 790,1060 640,1140 420,1060 130,960 80,940" fill="#4c4c52"/>
<polygon points="170,640 760,920 700,960 140,700" fill="#e4e6ea"/>
<polygon points="140,790 370,860 370,1000 130,950" fill="url(#h2in)"/>
<polygon points="430,880 690,950 620,1100 420,1040" fill="url(#h2in)"/>
<polygon points="250,650 460,720 370,860 140,790" fill="#707076"/>
<polygon points="540,750 750,820 690,940 430,870" fill="#707076"/>
<polygon points="460,720 540,750 470,860 400,840" fill="#e6e8ec"/>
<polygon points="690,940 750,900 790,940 790,1060 640,1140 620,1000" fill="#5a5a60"/>
<polygon points="130,920 350,980 350,1010 130,950" fill="#3a3a40"/>
<polygon points="430,1020 620,1090 640,1140 420,1060" fill="#3a3a40"/>
<line x1="171.2" y1="746.9" x2="161.2" y2="776.9" stroke="#3a3a40" stroke-width="6"/>
<line x1="183.8" y1="750.6" x2="173.8" y2="780.6" stroke="#3a3a40" stroke-width="6"/>
<line x1="196.2" y1="754.4" x2="186.2" y2="784.4" stroke="#3a3a40" stroke-width="6"/>
<line x1="208.8" y1="758.1" x2="198.8" y2="788.1" stroke="#3a3a40" stroke-width="6"/>
<line x1="301.2" y1="791.9" x2="291.2" y2="821.9" stroke="#3a3a40" stroke-width="6"/>
<line x1="313.8" y1="795.6" x2="303.8" y2="825.6" stroke="#3a3a40" stroke-width="6"/>
<line x1="326.2" y1="799.4" x2="316.2" y2="829.4" stroke="#3a3a40" stroke-width="6"/>
<line x1="338.8" y1="803.1" x2="328.8" y2="833.1" stroke="#3a3a40" stroke-width="6"/>
<line x1="461.2" y1="851.9" x2="451.2" y2="881.9" stroke="#3a3a40" stroke-width="6"/>
<line x1="473.8" y1="855.6" x2="463.8" y2="885.6" stroke="#3a3a40" stroke-width="6"/>
<line x1="486.2" y1="859.4" x2="476.2" y2="889.4" stroke="#3a3a40" stroke-width="6"/>
<line x1="498.8" y1="863.1" x2="488.8" y2="893.1" stroke="#3a3a40" stroke-width="6"/>
<line x1="601.2" y1="891.9" x2="591.2" y2="921.9" stroke="#3a3a40" stroke-width="6"/>
<line x1="613.8" y1="895.6" x2="603.8" y2="925.6" stroke="#3a3a40" stroke-width="6"/>
<line x1="626.2" y1="899.4" x2="616.2" y2="929.4" stroke="#3a3a40" stroke-width="6"/>
<line x1="638.8" y1="903.1" x2="628.8" y2="933.1" stroke="#3a3a40" stroke-width="6"/>
<circle cx="685" cy="1020" r="9" fill="#8a8c92"/>
<circle cx="685" cy="1100" r="9" fill="#8a8c92"/>
</g>
</g>
<!-- 30_medium1 -->
<g id="medium1" opacity="0.94" transform="translate(1350,550) scale(0.19969)">
<defs>
<linearGradient id="m1roof" gradientUnits="userSpaceOnUse" x1="300" y1="300" x2="1200" y2="700">
<stop offset="0" stop-color="#d9e0ec"/><stop offset="0.4" stop-color="#ebedf0"/><stop offset="1" stop-color="#ebebe8"/>
</linearGradient>
<linearGradient id="m1muz" x1="0" y1="0" x2="1" y2="1"><stop offset="0" stop-color="#7088b8"/><stop offset="1" stop-color="#1a2030"/></linearGradient>
</defs>
<polygon points="880,730 950,760 935,820 870,845 800,850" fill="#38383c"/>
<polygon points="600,780 700,830 640,800" fill="#2a2a2e"/>
<polygon points="730,95 805,100 1140,195 1222,262 1235,300 1232,400 1215,440 1040,620 1010,650 930,740 915,800 870,835 770,860 640,790 610,745 600,700 380,620 240,690 235,680 300,520 310,500 370,340 385,320 560,190 640,160" fill="url(#m1roof)"/>
<polygon points="385,320 560,190 500,400 330,520 300,520 310,500 370,340" fill="#e3e7ee"/>
<polygon points="300,520 330,520 500,560 380,620 240,690 235,680" fill="#dfe4ec"/>
<polyline points="730,95 640,160 560,190 385,320 370,340 310,500 300,520 235,680" fill="none" stroke="#86a4da" stroke-width="6" opacity="0.5"/>
<polygon points="760,600 1000,400 1222,262 1235,300 1232,400 1215,440 1040,620 1010,650 930,740 915,800 870,835 770,860 700,820" fill="#e6e6e3"/>
<polygon points="640,160 720,100 790,120 730,190 700,200" fill="#8c8e94"/>
<polygon points="655,160 722,112 770,125 715,180" fill="#a9abb1"/>
<polygon points="1030,290 1130,240 1190,270 1110,335 1060,320" fill="#8c8e94"/>
<polygon points="1050,290 1130,252 1170,272 1105,320" fill="#a9abb1"/>
<polygon points="640,360 700,250 760,220 850,212 990,270 1000,290 900,345 760,392 720,395" fill="#9a9ca3" stroke="#62646a" stroke-width="5"/>
<polygon points="790,215 850,205 990,265 985,285 940,265 860,235 800,235" fill="#7c7e84"/>
<line x1="725" y1="259.2" x2="750" y2="254.2" stroke="#55575d" stroke-width="4"/>
<line x1="725" y1="267.5" x2="750" y2="262.5" stroke="#55575d" stroke-width="4"/>
<line x1="725" y1="275.8" x2="750" y2="270.8" stroke="#55575d" stroke-width="4"/>
<line x1="850" y1="299.2" x2="875" y2="294.2" stroke="#55575d" stroke-width="4"/>
<line x1="850" y1="307.5" x2="875" y2="302.5" stroke="#55575d" stroke-width="4"/>
<line x1="850" y1="315.8" x2="875" y2="310.8" stroke="#55575d" stroke-width="4"/>
<circle cx="660" cy="355" r="5" fill="#6a6c72"/>
<circle cx="705" cy="262" r="5" fill="#6a6c72"/>
<circle cx="740" cy="380" r="5" fill="#6a6c72"/>
<circle cx="895" cy="335" r="5" fill="#6a6c72"/>
<polygon points="345,470 535,195 590,212 590,245 410,495 350,495" fill="#c9ccd2"/>
<polygon points="372,455 545,215 575,225 400,470" fill="#66686e"/>
<polygon points="735,605 925,340 980,358 975,392 795,632 745,625" fill="#c9ccd2"/>
<polygon points="762,590 935,360 965,370 790,605" fill="#66686e"/>
<polygon points="545,215 575,225 560,245 530,236" fill="#a2a4aa"/>
<polygon points="935,360 965,370 950,390 920,381" fill="#a2a4aa"/>
<polygon points="640,262 655,282 560,347 545,325" fill="#55575d"/>
<polygon points="640.3,267.8 649.3,279.8 639,286.9 630,274.7" fill="#d4d7dc"/>
<polygon points="626.7,276.9 635.7,289.1 625.4,296.1 616.4,283.8" fill="#d4d7dc"/>
<polygon points="613.1,285.9 622.1,298.3 611.8,305.3 602.8,292.8" fill="#d4d7dc"/>
<polygon points="599.6,295 608.6,307.5 598.3,314.5 589.3,301.9" fill="#d4d7dc"/>
<polygon points="586,304 595,316.8 584.7,323.8 575.7,310.9" fill="#d4d7dc"/>
<polygon points="572.4,313.1 581.4,326 571.1,333 562.1,320" fill="#d4d7dc"/>
<polygon points="558.9,322.2 567.9,335.2 559.7,340.8 550.7,327.6" fill="#d4d7dc"/>
<polygon points="880,350 895,372 802,440 788,418" fill="#55575d"/>
<polygon points="880.4,356.3 889.3,369.5 879.3,376.9 870.4,363.7" fill="#d4d7dc"/>
<polygon points="867.2,366.1 876.1,379.3 866,386.6 857.2,373.4" fill="#d4d7dc"/>
<polygon points="854,375.8 862.8,389 852.8,396.4 844,383.2" fill="#d4d7dc"/>
<polygon points="840.9,385.5 849.6,398.7 839.5,406.1 830.8,392.9" fill="#d4d7dc"/>
<polygon points="827.7,395.2 836.3,408.4 826.2,415.8 817.7,402.6" fill="#d4d7dc"/>
<polygon points="814.5,404.9 823.1,418.1 813,425.5 804.5,412.3" fill="#d4d7dc"/>
<polygon points="801.3,414.6 809.8,427.8 801.9,433.7 793.4,420.5" fill="#d4d7dc"/>
<polygon points="500,385 520,360 745,445 740,470 600,560 480,500" fill="#eef0f2"/>
<polyline points="500,385 745,465" fill="none" stroke="#c6cad2" stroke-width="4"/>
<polygon points="850,700 880,540 985,455 1000,470 1000,600 960,640 930,690 880,745 800,800 790,770" fill="#a3a3a6" stroke="#707074" stroke-width="4"/>
<line x1="933.6" y1="527.9" x2="933.6" y2="617.9" stroke="#55575d" stroke-width="4"/>
<line x1="940.7" y1="523.6" x2="940.7" y2="613.6" stroke="#55575d" stroke-width="4"/>
<line x1="947.9" y1="519.3" x2="947.9" y2="609.3" stroke="#55575d" stroke-width="4"/>
<line x1="955" y1="515" x2="955" y2="605" stroke="#55575d" stroke-width="4"/>
<line x1="962.1" y1="510.7" x2="962.1" y2="600.7" stroke="#55575d" stroke-width="4"/>
<line x1="969.3" y1="506.4" x2="969.3" y2="596.4" stroke="#55575d" stroke-width="4"/>
<line x1="976.4" y1="502.1" x2="976.4" y2="592.1" stroke="#55575d" stroke-width="4"/>
<ellipse cx="872" cy="705" rx="24" ry="32" fill="#6a6c72" transform="rotate(15 872 705)"/>
<ellipse cx="872" cy="705" rx="19.5" ry="26" fill="#a3a3a6" transform="rotate(15 872 705)"/>
<ellipse cx="872" cy="705" rx="15" ry="20" fill="#6a6c72" transform="rotate(15 872 705)"/>
<ellipse cx="872" cy="705" rx="10.5" ry="14" fill="#a3a3a6" transform="rotate(15 872 705)"/>
<line x1="860" y1="695" x2="884" y2="695" stroke="#6a6c72" stroke-width="4"/>
<line x1="860" y1="705" x2="884" y2="705" stroke="#6a6c72" stroke-width="4"/>
<line x1="860" y1="715" x2="884" y2="715" stroke="#6a6c72" stroke-width="4"/>
<polygon points="1085,420 1103,410 1103,465 1085,475" fill="#55575d"/>
<polygon points="1120,395 1138,385 1138,440 1120,450" fill="#55575d"/>
<polygon points="1085,495 1103,485 1103,540 1085,550" fill="#55575d"/>
<polygon points="1120,470 1138,460 1138,515 1120,525" fill="#55575d"/>
<circle cx="1035" cy="520" r="6" fill="#2a2a2e"/>
<circle cx="1050" cy="545" r="6" fill="#2a2a2e"/>
<circle cx="1030" cy="565" r="6" fill="#2a2a2e"/>
<line x1="966.2" y1="651.2" x2="966.2" y2="671.2" stroke="#66686e" stroke-width="4"/>
<line x1="978.8" y1="643.8" x2="978.8" y2="663.8" stroke="#66686e" stroke-width="4"/>
<line x1="991.2" y1="636.2" x2="991.2" y2="656.2" stroke="#66686e" stroke-width="4"/>
<line x1="1003.8" y1="628.8" x2="1003.8" y2="648.8" stroke="#66686e" stroke-width="4"/>
<polygon points="1165,400 1225,330 1232,400 1180,432" fill="#9b9ba0"/>
<polygon points="715,640 760,600 770,640 720,680" fill="#b9bcc4"/>
<g transform="translate(25.04,450.7) scale(0.5652)">
<polygon points="85,880 110,850 560,310 980,380 1030,560 970,580 600,870 400,1010 250,1090 120,1050 85,1000" fill="#dcdfe4"/>
<polygon points="110,850 560,310 600,330 160,860" fill="#cfd7e6"/>
<polygon points="160,860 600,330 830,380 340,810" fill="#9a9ca4"/>
<polyline points="165,850 600,335" fill="none" stroke="#4e5058" stroke-width="10"/>
<polygon points="520,520 690,360 790,390 600,560" fill="#e0e3e8"/>
<polygon points="430,600 520,520 600,560 500,650" fill="#6a6c74"/>
<polygon points="340,690 370,665 440,690 410,715" fill="#e6e8ec"/>
<polygon points="340,810 830,380 900,420 540,780 545,900 400,1010 385,880" fill="#8b8683"/>
<polygon points="540,780 900,420 970,480 975,580 600,870 545,900" fill="#e6e6e3"/>
<polyline points="740,740 780,715" fill="none" stroke="#8a8c92" stroke-width="8"/>
<polyline points="650,790 690,765" fill="none" stroke="#b0b2b8" stroke-width="6"/>
<polygon points="85,880 240,770 370,815 385,880 345,930 320,895 110,860" fill="#e9ebee"/>
<polygon points="345,930 385,880 400,1010 345,1040" fill="#d4d6da"/>
<polygon points="85,880 110,860 320,895 345,930 345,1040 250,1090 120,1050 85,1000" fill="#dfe2e8"/>
<polygon points="110,930 150,900 230,915 250,950 235,1010 200,1045 140,1040 105,990" fill="url(#m1muz)"/>
<polygon points="110,930 150,900 230,915 250,950 200,960 140,1000 105,990" fill="#0c0d10"/>
<polygon points="1050,410 1230,205 1240,330 1225,470 1060,590 1030,560" fill="#8a8a8e"/>
<polygon points="640,235 835,65 1230,205 1050,410 985,370" fill="#9b9ba1"/>
<polygon points="560,290 640,235 985,370 1050,410 1030,560 965,500 945,410 600,330" fill="#eceef0"/>
<polyline points="640,235 835,65" fill="none" stroke="#7f9cd8" stroke-width="8" opacity="0.7"/>
<polyline points="560,295 130,800" fill="none" stroke="#7f9cd8" stroke-width="6" opacity="0.5"/>
</g>
</g>
<!-- 40_medium2 -->
<g id="medium2" opacity="0.93" transform="translate(1600,660) scale(0.2083333)">
<defs>
<linearGradient id="m2roof" gradientUnits="userSpaceOnUse" x1="300" y1="300" x2="1200" y2="700">
<stop offset="0" stop-color="#d6dce8"/><stop offset="0.4" stop-color="#e6e8ea"/><stop offset="1" stop-color="#e6e6e2"/>
</linearGradient>
<linearGradient id="m2muz" x1="0" y1="0" x2="1" y2="1"><stop offset="0" stop-color="#8a8c90"/><stop offset="1" stop-color="#15161a"/></linearGradient>
</defs>
<polygon points="900,790 990,720 1000,690 990,760 930,800" fill="#2c2c30"/>
<polygon points="660,40 700,30 1000,120 1250,200 1330,250 1340,300 1335,430 1300,460 1200,520 1110,540 1095,600 1000,690 990,720 900,790 790,820 740,800 660,760 600,700 280,650 268,600 290,570 340,500 400,390 420,300 560,170 590,110" fill="url(#m2roof)"/>
<polyline points="660,40 590,110 560,170 420,300 400,390 340,500" fill="none" stroke="#7f9cd6" stroke-width="6" opacity="0.55"/>
<polygon points="560,170 590,110 660,40 705,33 650,100 610,165 575,200" fill="#7a7672"/>
<polygon points="600,120 655,55 690,50 640,110" fill="#99979a"/>
<polygon points="1250,205 1330,250 1340,300 1335,430 1300,460 1200,520 1110,540 1105,410 1260,250" fill="#7a7674"/>
<polygon points="1130,425 1265,350 1320,330 1320,420 1200,490 1135,505" fill="#9a9a9e" stroke="#5e5e62" stroke-width="4"/>
<polygon points="1270,370 1295,360 1295,410 1270,420" fill="#5e5e62"/>
<ellipse cx="1200" cy="435" rx="22" ry="17.6" fill="#66686e" transform="rotate(-20 1200 435)"/>
<ellipse cx="1200" cy="435" rx="16" ry="12.8" fill="#9a9a9e" transform="rotate(-20 1200 435)"/>
<polygon points="1100,410 1112,405 1115,540 1100,545" fill="#46464a"/>
<polygon points="660,48 1245,212 1255,250 1090,420 1000,440 830,420 430,310 560,175 600,105" fill="#dedfe0"/>
<polygon points="600,105 660,48 1245,212 1255,250 1240,235 665,72 612,125" fill="#f4f4f2"/>
<polygon points="666,72 882,124 855,174 634,122" fill="#c4c6ca"/>
<polygon points="680,80 870,130 845,162 650,112" fill="#7c7e84"/>
<polygon points="688,88 864,136 837,158 660,108" fill="#a0a2a8"/>
<polygon points="601,142 802,194 770,247 564,195" fill="#c4c6ca"/>
<polygon points="615,150 790,200 760,235 580,185" fill="#7c7e84"/>
<polygon points="623,158 784,206 752,231 590,181" fill="#a0a2a8"/>
<polygon points="516,227 712,279 680,332 484,280" fill="#c4c6ca"/>
<polygon points="530,235 700,285 670,320 500,270" fill="#7c7e84"/>
<polygon points="538,243 694,291 662,316 510,266" fill="#a0a2a8"/>
<polygon points="1036,162 1212,209 1180,262 1004,215" fill="#c4c6ca"/>
<polygon points="1050,170 1200,215 1170,250 1020,205" fill="#7c7e84"/>
<polygon points="1058,178 1194,221 1162,246 1030,201" fill="#a0a2a8"/>
<polygon points="936,247 1122,294 1090,352 904,305" fill="#c4c6ca"/>
<polygon points="950,255 1110,300 1080,340 920,295" fill="#7c7e84"/>
<polygon points="958,263 1104,306 1072,336 930,291" fill="#a0a2a8"/>
<polygon points="836,337 1012,384 985,437 804,390" fill="#c4c6ca"/>
<polygon points="850,345 1000,390 975,425 820,380" fill="#7c7e84"/>
<polygon points="858,353 994,396 967,421 830,376" fill="#a0a2a8"/>
<line x1="685" y1="139.2" x2="680" y2="149.2" stroke="#8a8c92" stroke-width="3"/>
<line x1="715" y1="147.5" x2="710" y2="157.5" stroke="#8a8c92" stroke-width="3"/>
<line x1="745" y1="155.8" x2="740" y2="165.8" stroke="#8a8c92" stroke-width="3"/>
<line x1="605" y1="219.2" x2="600" y2="229.2" stroke="#8a8c92" stroke-width="3"/>
<line x1="635" y1="227.5" x2="630" y2="237.5" stroke="#8a8c92" stroke-width="3"/>
<line x1="665" y1="235.8" x2="660" y2="245.8" stroke="#8a8c92" stroke-width="3"/>
<line x1="1013.3" y1="248.8" x2="1008.3" y2="258.8" stroke="#8a8c92" stroke-width="3"/>
<line x1="1040" y1="256.5" x2="1035" y2="266.5" stroke="#8a8c92" stroke-width="3"/>
<line x1="1066.7" y1="264.2" x2="1061.7" y2="274.2" stroke="#8a8c92" stroke-width="3"/>
<line x1="913.3" y1="333.8" x2="908.3" y2="343.8" stroke="#8a8c92" stroke-width="3"/>
<line x1="940" y1="341.5" x2="935" y2="351.5" stroke="#8a8c92" stroke-width="3"/>
<line x1="966.7" y1="349.2" x2="961.7" y2="359.2" stroke="#8a8c92" stroke-width="3"/>
<path d="M905,122 L965,120 Q1002,135 1002,170 L820,335 Q770,350 720,335 Q690,315 695,290 Z" fill="#3b3d42"/>
<line x1="922" y1="168" x2="768" y2="303" stroke="#f0b41c" stroke-width="22"/>
<polyline points="905,160 940,170" fill="none" stroke="#c8961a" stroke-width="4"/>
<polyline points="752,296 786,308" fill="none" stroke="#c8961a" stroke-width="4"/>
<polygon points="585,318 700,330 830,400 830,422 700,392 570,340" fill="#b0b3ba"/>
<polygon points="430,310 570,340 700,392 830,422 820,445 690,420 560,365 425,330" fill="#f2f3f4"/>
<polygon points="425,330 560,365 690,420 820,445 800,560 740,640 660,760 600,600 440,480 400,390" fill="#e4e6ea"/>
<polygon points="800,560 820,445 1000,440 960,500 900,700 905,770 900,790 790,820 740,800" fill="#e9e9e7"/>
<polygon points="705,640 760,590 800,585 790,640 740,700 730,790 690,770" fill="#a9abb3"/>
<polygon points="350,470 400,440 420,455 380,520 345,560 320,560" fill="#a9abb3"/>
<polygon points="905,770 900,700 960,500 1000,452 1085,432 1090,590 1000,682" fill="#a5a5a8" stroke="#707074" stroke-width="4"/>
<polygon points="985,520 1005,498 1010,530 1030,520 1015,552 995,545" fill="#f0b41c"/>
<polygon points="970,560 990,540 995,572 1015,565 1000,595 980,588" fill="#f0b41c"/>
<circle cx="1045" cy="478" r="5" fill="#2a2a2e"/>
<circle cx="1060" cy="492" r="5" fill="#2a2a2e"/>
<circle cx="1045" cy="508" r="5" fill="#2a2a2e"/>
<line x1="1042.9" y1="538.8" x2="1042.9" y2="613.8" stroke="#55575d" stroke-width="4"/>
<line x1="1048.8" y1="536.2" x2="1048.8" y2="611.2" stroke="#55575d" stroke-width="4"/>
<line x1="1054.6" y1="533.8" x2="1054.6" y2="608.8" stroke="#55575d" stroke-width="4"/>
<line x1="1060.4" y1="531.2" x2="1060.4" y2="606.2" stroke="#55575d" stroke-width="4"/>
<line x1="1066.2" y1="528.8" x2="1066.2" y2="603.8" stroke="#55575d" stroke-width="4"/>
<line x1="1072.1" y1="526.2" x2="1072.1" y2="601.2" stroke="#55575d" stroke-width="4"/>
<line x1="1007.5" y1="593.7" x2="1007.5" y2="643.5" stroke="#55575d" stroke-width="4"/>
<line x1="1012.5" y1="591.1" x2="1012.5" y2="640.5" stroke="#55575d" stroke-width="4"/>
<line x1="1017.5" y1="588.5" x2="1017.5" y2="637.5" stroke="#55575d" stroke-width="4"/>
<line x1="1022.5" y1="585.9" x2="1022.5" y2="634.5" stroke="#55575d" stroke-width="4"/>
<line x1="1027.5" y1="583.3" x2="1027.5" y2="631.5" stroke="#55575d" stroke-width="4"/>
<ellipse cx="965" cy="655" rx="16" ry="20" fill="#707278" transform="rotate(15 965 655)"/>
<ellipse cx="965" cy="655" rx="11.2" ry="14" fill="#a5a5a8" transform="rotate(15 965 655)"/>
<polygon points="905,680 925,670 925,725 905,735" fill="#77797f"/>
<g transform="translate(0,480) scale(0.5)">
<polygon points="130,815 165,790 390,480 560,240 830,210 1010,180 1340,330 1350,440 1330,500 700,1030 640,1065 480,1040 440,990 430,910 370,940 330,985 175,965 135,905" fill="#dddfe2"/>
<polygon points="130,815 165,790 390,480 560,240 600,250 420,520 200,800" fill="#cfd5e0"/>
<polygon points="375,840 440,700 600,560 640,600 470,880 430,910 370,940" fill="#b4b6bc"/>
<polygon points="520,660 575,640 590,720 545,770" fill="#55555b"/>
<polygon points="230,690 300,650 450,700 400,770 330,745" fill="#a4a6ae"/>
<polygon points="390,480 560,240 830,210 520,500 420,520" fill="#d9dde5"/>
<polygon points="390,480 420,520 520,500 500,465" fill="#b4b8c4"/>
<polygon points="390,640 1130,-70 1210,-50 450,672" fill="#8b8988"/>
<polygon points="450,672 1210,-50 1216,-28 462,694" fill="#5c5a5a"/>
<polygon points="820,650 1180,330 1290,340 1340,440 1330,500 860,880 780,830" fill="#e6e6e3"/>
<polygon points="700,950 780,830 860,880 700,1030" fill="#d2d4d8"/>
<polygon points="560,790 620,755 770,810 760,875 700,860" fill="#a4a6ae"/>
<polygon points="700,860 760,875 770,960 700,1030 690,960" fill="#9a9ca4"/>
<polygon points="640,700 1420,-10 1500,10 700,742" fill="#8b8988"/>
<polygon points="700,742 1500,10 1506,32 712,764" fill="#5c5a5a"/>
<polygon points="930,230 1010,180 1340,330 1350,400 1280,400 1000,260" fill="#a9abb3"/>
<polygon points="130,815 165,790 330,795 375,840 370,940 330,985 175,965 135,905" fill="#e2e4e6"/>
<polygon points="185,828 270,818 302,860 262,902 200,892" fill="#1c1d20"/>
<polygon points="185,828 200,892 230,870 225,835" fill="#6a6c70"/>
<polygon points="430,910 480,880 650,905 700,950 690,1020 640,1065 480,1040 440,990" fill="#e2e4e6"/>
<polygon points="490,925 575,915 610,955 570,1000 505,990" fill="#1c1d20"/>
<polygon points="490,925 505,990 535,968 530,932" fill="#6a6c70"/>
</g>
</g>
<!-- 50_light -->
<g id="light" opacity="0.93" transform="translate(150,680) scale(0.130246)">
<defs>
<linearGradient id="ltroof" gradientUnits="userSpaceOnUse" x1="300" y1="400" x2="1200" y2="800">
<stop offset="0" stop-color="#d4dae6"/><stop offset="0.4" stop-color="#e2e4e8"/><stop offset="1" stop-color="#dcdcda"/>
</linearGradient>
<linearGradient id="ltcyl" x1="0" y1="0" x2="0" y2="1"><stop offset="0" stop-color="#85878d"/><stop offset="1" stop-color="#3c3e45"/></linearGradient>
</defs>
<polygon points="540,265 700,250 1140,330 1215,380 1222,400 1225,560 1215,600 1130,700 990,850 860,950 820,965 790,950 640,900 450,1050 400,1065 200,1000 150,950 150,900 240,720 245,690 370,470 390,420" fill="url(#ltroof)"/>
<polyline points="540,265 390,420 370,470 245,690 240,720 150,900" fill="none" stroke="#7f9cd6" stroke-width="8" opacity="0.5"/>
<polygon points="860,560 1215,380 1225,560 1215,600 1130,700 990,850 860,950 820,965 790,950 830,620" fill="#dededc"/>
<polygon points="880,900 930,640 1060,520 1078,540 1078,700 960,830" fill="#9c9ca0" stroke="#6c6c70" stroke-width="6"/>
<line x1="978.8" y1="593.1" x2="978.8" y2="692.5" stroke="#6a6c72" stroke-width="8"/>
<line x1="996.2" y1="579.4" x2="996.2" y2="677.5" stroke="#6a6c72" stroke-width="8"/>
<line x1="1013.8" y1="565.6" x2="1013.8" y2="662.5" stroke="#6a6c72" stroke-width="8"/>
<line x1="1031.2" y1="551.9" x2="1031.2" y2="647.5" stroke="#6a6c72" stroke-width="8"/>
<ellipse cx="975" cy="745" rx="27.2" ry="34" fill="#707278" transform="rotate(15 975 745)"/>
<ellipse cx="975" cy="745" rx="19.2" ry="24" fill="#9c9ca0" transform="rotate(15 975 745)"/>
<line x1="1120" y1="510.7" x2="1200" y2="450.7" stroke="#8a8c92" stroke-width="7"/>
<line x1="1120" y1="532.1" x2="1200" y2="472.1" stroke="#8a8c92" stroke-width="7"/>
<line x1="1120" y1="553.6" x2="1200" y2="493.6" stroke="#8a8c92" stroke-width="7"/>
<line x1="1120" y1="575" x2="1200" y2="515" stroke="#8a8c92" stroke-width="7"/>
<line x1="1120" y1="596.4" x2="1200" y2="536.4" stroke="#8a8c92" stroke-width="7"/>
<line x1="1120" y1="617.9" x2="1200" y2="557.9" stroke="#8a8c92" stroke-width="7"/>
<line x1="1120" y1="639.3" x2="1200" y2="579.3" stroke="#8a8c92" stroke-width="7"/>
<line x1="1120" y1="406.7" x2="1190" y2="366.7" stroke="#8a8c92" stroke-width="7"/>
<line x1="1120" y1="420" x2="1190" y2="380" stroke="#8a8c92" stroke-width="7"/>
<line x1="1120" y1="433.3" x2="1190" y2="393.3" stroke="#8a8c92" stroke-width="7"/>
<polygon points="1135,610 1160,595 1160,640 1135,660" fill="#4a4c52"/>
<g transform="translate(722,152) rotate(20.4)">
<rect x="-19.2" y="-32" width="84.3" height="64" rx="19.2" fill="url(#ltcyl)"/>
</g>
<g transform="translate(658,208) rotate(20)">
<rect x="-19.2" y="-32" width="85.2" height="64" rx="19.2" fill="url(#ltcyl)"/>
</g>
<g transform="translate(1085,272) rotate(25.6)">
<rect x="-22.8" y="-38" width="101.1" height="76" rx="22.8" fill="url(#ltcyl)"/>
</g>
<g transform="translate(1018,332) rotate(25.6)">
<rect x="-22.8" y="-38" width="101.1" height="76" rx="22.8" fill="url(#ltcyl)"/>
</g>
<polygon points="805,138 920,168 935,200 730,445 590,415 585,370" fill="#5e6066"/>
<polygon points="805,138 920,168 715,410 598,380" fill="#7c7e84"/>
<polygon points="965,200 1075,232 1090,265 880,505 750,478 742,430" fill="#5e6066"/>
<polygon points="965,200 1075,232 868,470 755,440" fill="#7c7e84"/>
<line x1="842.5" y1="173" x2="832.5" y2="191" stroke="#3c3e44" stroke-width="8"/>
<line x1="867.5" y1="179" x2="857.5" y2="197" stroke="#3c3e44" stroke-width="8"/>
<line x1="992.5" y1="235.2" x2="982.5" y2="253" stroke="#3c3e44" stroke-width="8"/>
<line x1="1017.5" y1="241.8" x2="1007.5" y2="259" stroke="#3c3e44" stroke-width="8"/>
<polygon points="590,270 700,260 600,390" fill="#6f8ccc" opacity="0.5"/>
<polygon points="510,440 830,520 790,650 480,560" fill="#e4e6ea"/>
<polygon points="370,470 455,450 440,520 290,740 240,720 245,690" fill="#84848a"/>
<polygon points="825,625 905,645 880,720 780,950 720,900 790,700" fill="#84848a"/>
<polygon points="790,650 780,760 640,900 450,1050 450,960 600,830" fill="#d4d6da"/>
<polygon points="480,560 790,650 600,830 450,960 190,860" fill="#e6e8ec"/>
<polygon points="400,640 720,720 650,790 330,710" fill="#8e8e96"/>
<polygon points="290,760 600,830 540,900 220,830" fill="#8e8e96"/>
<polygon points="650,790 720,720 715,800 645,870" fill="#7c7c84"/>
<polygon points="540,900 600,830 598,915 538,985" fill="#7c7c84"/>
<polygon points="150,900 190,860 420,930 450,960 440,1050 400,1065 200,1000 150,950" fill="#c9ccd4"/>
<polygon points="190,900 220,880 390,930 410,955 380,990 210,945" fill="#70727a"/>
<polygon points="180,950 390,1005 395,1040 200,990" fill="#3a3c44"/>
</g>
<!-- 60_flak -->
<g id="flak" opacity="0.92" transform="translate(350,770) scale(0.1041667)">
<defs>
<linearGradient id="flroof" gradientUnits="userSpaceOnUse" x1="300" y1="300" x2="1100" y2="700">
<stop offset="0" stop-color="#cfd5e0"/><stop offset="0.4" stop-color="#dcdee2"/><stop offset="1" stop-color="#d4d4d2"/>
</linearGradient>
</defs>
<polygon points="600,180 720,175 1100,290 1160,340 1175,400 1165,580 1100,650 900,790 770,880 700,900 640,870 560,800 400,900 250,700 240,680 250,650 370,470 450,380 520,280" fill="url(#flroof)"/>
<polygon points="1100,290 1160,340 1175,400 1165,580 1100,650 990,620 985,480" fill="#77777b"/>
<polygon points="1000,490 1140,430 1150,560 1005,610" fill="#8e8e94"/>
<ellipse cx="1060" cy="520" rx="40" ry="36" fill="#6a6a70"/>
<ellipse cx="1060" cy="520" rx="26" ry="23.4" fill="#8e8e94"/>
<polygon points="560,260 740,215 620,380 520,360" fill="#a9acb4"/>
<polygon points="600,240 700,215 690,240 590,265" fill="#74767e"/>
<polygon points="550,300 660,275 650,300 540,325" fill="#74767e"/>
<polygon points="520,345 620,320 610,345 510,370" fill="#74767e"/>
<polygon points="830,420 1060,330 1090,390 900,480 800,470" fill="#a9acb4"/>
<polygon points="900,370 1040,330 1040,360 900,400" fill="#74767e"/>
<polygon points="850,420 960,390 960,420 850,450" fill="#74767e"/>
<path d="M775,210 L890,240 Q905,265 895,295 L725,440 Q680,450 640,440 Q610,425 618,385 Z" fill="#44464c"/>
<line x1="790" y1="305" x2="690" y2="372" stroke="#f0b41c" stroke-width="20" stroke-linecap="round"/>
<circle cx="830" cy="255" r="13" fill="#f0b41c"/>
<polygon points="600,430 640,445 725,445 760,470 740,495 580,460" fill="#eceef0"/>
<polygon points="450,400 580,460 740,495 820,520 780,610 690,640 640,700 560,540 420,600 370,560" fill="#d9dbe0"/>
<circle cx="455" cy="380" r="8" fill="#55575d"/>
<circle cx="490" cy="390" r="8" fill="#55575d"/>
<circle cx="820" cy="505" r="8" fill="#55575d"/>
<circle cx="855" cy="515" r="8" fill="#55575d"/>
<polygon points="820,520 985,480 990,620 1100,650 900,790 770,880 780,610" fill="#dcdcda"/>
<polygon points="800,800 880,600 960,560 965,700 880,770" fill="#a0a0a4"/>
<polygon points="900,600 950,575 950,640 900,665" fill="#e4e4e2"/>
<polygon points="370,470 425,480 300,700 240,690 250,650" fill="#8a8a90"/>
<polygon points="690,640 780,610 775,700 700,900 640,870 650,740" fill="#8a8a90"/>
<polygon points="130,870 165,840 330,640 430,590 520,560 540,620 430,760 250,920 240,940 150,935 130,905" fill="#e2e4e8"/>
<polygon points="330,640 430,590 520,560 540,620 480,690 400,660" fill="#eef0f2"/>
<polygon points="380,610 540,480 575,490 420,640" fill="#85838a"/>
<polygon points="300,700 400,660 480,690 380,760" fill="#9a9ca4"/>
<polygon points="200,800 260,790 300,830 240,870" fill="#a8aab2"/>
<polygon points="150,880 170,865 225,880 230,910 215,925 160,920" fill="#b4b6bc"/>
<polygon points="265,925 300,895 465,695 565,645 655,615 675,675 565,815 385,975 375,995 285,990 265,960" fill="#e2e4e8"/>
<polygon points="465,695 565,645 655,615 675,675 615,745 535,715" fill="#eef0f2"/>
<polygon points="515,665 675,535 710,545 555,695" fill="#85838a"/>
<polygon points="435,755 535,715 615,745 515,815" fill="#9a9ca4"/>
<polygon points="335,855 395,845 435,885 375,925" fill="#a8aab2"/>
<polygon points="285,935 305,920 360,935 365,965 350,980 295,975" fill="#b4b6bc"/>
</g>
<!-- 70_silo -->
<g id="silo" transform="translate(550,825) scale(0.1388889)">
<defs>
<linearGradient id="msfloor" gradientUnits="userSpaceOnUse" x1="300" y1="400" x2="900" y2="700">
<stop offset="0" stop-color="#c9d0de"/><stop offset="0.5" stop-color="#eceef2"/><stop offset="1" stop-color="#d9dde6"/>
</linearGradient>
<linearGradient id="msback" x1="0" y1="0" x2="0" y2="1"><stop offset="0" stop-color="#3a3a40"/><stop offset="1" stop-color="#1c1e28"/></linearGradient>
</defs>
<polygon points="800,95 1075,185 1078,700 1010,740 960,730 800,870 800,940 720,980 700,962 400,1068 130,975 125,700 140,600 560,250" fill="#7a787a"/>
<polygon points="800,95 1075,185 1032,205 800,118 565,268 150,612 140,600 560,250" fill="#9a989a"/>
<polyline points="800,95 560,250 140,600 125,700" fill="none" stroke="#6f86c0" stroke-width="7" opacity="0.6"/>
<polygon points="800,115 1032,205 1032,385 800,295" fill="url(#msback)"/>
<circle cx="812" cy="150" r="10" fill="#55565c"/>
<circle cx="1018" cy="215" r="10" fill="#55565c"/>
<polygon points="800,115 800,295 570,362 200,700 145,715 148,612 565,268" fill="#858386"/>
<polygon points="1032,205 1075,185 1078,440 1035,470" fill="#8e8c8e"/>
<polygon points="570,362 800,292 1022,378 1025,452 640,782 460,772 200,700" fill="url(#msfloor)"/>
<polygon points="800,292 1022,378 1022,420 940,370 800,325 620,375 570,362" fill="#aebbd6" opacity="0.7"/>
<ellipse cx="575" cy="522" rx="115" ry="64" fill="#060607" transform="rotate(-3 575 522)"/>
<ellipse cx="850" cy="487" rx="114" ry="62" fill="#060607" transform="rotate(-3 850 487)"/>
<ellipse cx="630" cy="692" rx="115" ry="66" fill="#060607" transform="rotate(-3 630 692)"/>
<ellipse cx="350" cy="718" rx="108" ry="54" fill="#060607" transform="rotate(-3 350 718)"/>
<polygon points="125,700 400,792 400,1068 130,975" fill="#77757a"/>
<polygon points="125,700 400,792 640,782 460,772 200,700 145,715" fill="#a3a1a3"/>
<ellipse cx="205" cy="850" rx="48" ry="52" fill="#5e5c62" transform="rotate(15 205 850)"/>
<ellipse cx="205" cy="850" rx="38" ry="42" fill="#7e7c82" transform="rotate(15 205 850)"/>
<ellipse cx="205" cy="850" rx="22" ry="24" fill="#6a686e" transform="rotate(15 205 850)"/>
<ellipse cx="315" cy="882" rx="48" ry="52" fill="#5e5c62" transform="rotate(15 315 882)"/>
<ellipse cx="315" cy="882" rx="38" ry="42" fill="#7e7c82" transform="rotate(15 315 882)"/>
<ellipse cx="315" cy="882" rx="22" ry="24" fill="#6a686e" transform="rotate(15 315 882)"/>
<polygon points="400,792 640,782 700,800 720,980 700,962 400,1068" fill="#8c8a8c"/>
<polygon points="460,870 540,860 540,965 460,975" fill="#5c5a5e"/>
<line x1="462" y1="884.6" x2="538" y2="874.6" stroke="#8c8a8c" stroke-width="4"/>
<line x1="462" y1="909.9" x2="538" y2="899.9" stroke="#8c8a8c" stroke-width="4"/>
<line x1="462" y1="935.1" x2="538" y2="925.1" stroke="#8c8a8c" stroke-width="4"/>
<line x1="462" y1="960.4" x2="538" y2="950.4" stroke="#8c8a8c" stroke-width="4"/>
<line x1="474.7" y1="870.3" x2="474.7" y2="971.3" stroke="#8c8a8c" stroke-width="4"/>
<line x1="500" y1="867" x2="500" y2="968" stroke="#8c8a8c" stroke-width="4"/>
<line x1="525.3" y1="863.7" x2="525.3" y2="964.7" stroke="#8c8a8c" stroke-width="4"/>
<circle cx="582" cy="850" r="7" fill="#c0c0c4"/>
<circle cx="582" cy="940" r="7" fill="#c0c0c4"/>
<polygon points="640,782 1025,452 1078,440 1078,700 1010,740 960,730 800,870 800,940 720,980 700,800" fill="#6c6a6e"/>
<polygon points="640,782 1025,452 1035,470 700,800" fill="#9a989a"/>
<polygon points="690,805 790,735 800,940 720,980 712,870" fill="#4c4c52"/>
<polygon points="690,805 790,735 795,770 705,840" fill="#6a6a70"/>
<polygon points="960,565 1040,500 1045,690 985,745 975,640" fill="#4c4c52"/>
<polygon points="960,565 1040,500 1042,535 968,600" fill="#6a6a70"/>
<polyline points="900,600 930,585" fill="none" stroke="#8a888c" stroke-width="8"/>
<polyline points="900,680 930,660" fill="none" stroke="#8a888c" stroke-width="8"/>
</g>
<!-- 80_torp -->
<g id="torpedo" transform="translate(780,910) scale(0.1302326)">
<defs>
<linearGradient id="tpside" x1="0" y1="0" x2="0" y2="1"><stop offset="0" stop-color="#9a9aa0"/><stop offset="1" stop-color="#7c7c82"/></linearGradient>
<linearGradient id="tptop" gradientUnits="userSpaceOnUse" x1="250" y1="300" x2="600" y2="500"><stop offset="0" stop-color="#50556a"/><stop offset="0.5" stop-color="#858690"/><stop offset="1" stop-color="#a2a2a8"/></linearGradient>
</defs>
<polygon points="560,140 640,145 790,215 855,275 860,700 745,820 545,1005 470,1040 420,1020 210,930 180,880 180,470 220,430 400,270 500,165" fill="#55555b"/>
<polygon points="500,165 560,140 640,145 790,215 855,275 745,390 640,300 480,240" fill="#5b5b61"/>
<polygon points="500,165 560,140 640,145 600,170 520,190 470,245 420,280 400,270" fill="#6d6f7b"/>
<polygon points="745,390 855,275 860,700 745,820" fill="#56565c"/>
<polygon points="470,248 490,240 640,300 745,390 710,420 625,335 465,272" fill="#8d8d93"/>
<polygon points="710,420 745,390 745,820 710,852" fill="#9c9ca2"/>
<polygon points="425,282 468,255 628,332 710,420 660,462 590,375 430,305" fill="#3d3d43"/>
<polygon points="660,462 710,420 710,852 660,892" fill="#47474d"/>
<polygon points="185,470 220,430 400,270 428,285 400,300 290,410" fill="#474b5c"/>
<polygon points="290,410 400,295 595,372 440,462" fill="url(#tptop)"/>
<polygon points="440,462 595,372 660,462 545,562" fill="#a3a3a9"/>
<polygon points="545,562 660,462 660,892 545,1002" fill="url(#tpside)"/>
<polygon points="185,470 290,410 440,460 545,560 545,1002 470,1040 420,1020 210,930 180,880" fill="#2c2e34"/>
<polygon points="290,410 440,460 545,560 530,575 430,480 290,430 200,480 185,470" fill="#3e4048"/>
<polygon points="215,500 300,458 420,500 512,582 512,962 452,1002 310,942 215,862" fill="#06070a"/>
<polyline points="215,862 310,942 452,1002 512,962" fill="none" stroke="#3a3d48" stroke-width="8"/>
</g>
<!-- 90_text -->
<g id="texts">
<text x="44" y="87.9" class="dv" font-size="69.5" fill="url(#titleg)" stroke="url(#titleg)" stroke-width="2" stroke-linejoin="round" textLength="321" lengthAdjust="spacingAndGlyphs">Weapons</text>
<text x="1899.2" y="67.3" class="dv" font-size="47" font-weight="bold" fill="#c20000" stroke="#c20000" stroke-width="2.2" stroke-linejoin="miter" textLength="125" lengthAdjust="spacingAndGlyphs">MSGDI</text>
<text x="47" y="1134.8" class="dv" font-size="22.4" fill="url(#footg)" stroke="url(#footg)" stroke-width="1.1" textLength="981" lengthAdjust="spacingAndGlyphs">Weapons are separate parts. Turrets can rotate left/right. Barrels can elevate up/down.</text>
<text class="lbl" x="776.2" y="152.3" textLength="235.9" lengthAdjust="spacingAndGlyphs">Heavy Turret 1: 446 tris</text>
<text class="lbl" x="1116.2" y="227.3" textLength="235.9" lengthAdjust="spacingAndGlyphs">Heavy Turret 2: 716 tris</text>
<text class="lbl" x="1435.1" y="531.2" textLength="259.0" lengthAdjust="spacingAndGlyphs">Medium Turret 1: 336 tris</text>
<text class="lbl" x="1713.2" y="631.9" textLength="259.0" lengthAdjust="spacingAndGlyphs">Medium Turret 2: 510 tris</text>
<text class="lbl" x="92.3" y="864.1" textLength="207.4" lengthAdjust="spacingAndGlyphs">Light Turret: 656 tris</text>
<text class="lbl" x="297.2" y="926.1" textLength="197.7" lengthAdjust="spacingAndGlyphs">Flak Turret: 484 tris</text>
<text class="lbl" x="505.2" y="1027.6" textLength="202.5" lengthAdjust="spacingAndGlyphs">Missile Silo: 130 tris</text>
<text class="lbl" x="711.0" y="1077.6" textLength="258.4" lengthAdjust="spacingAndGlyphs">Torpedo Launcher: 68 tris</text>
</g>
</svg>
</body>
</html>
